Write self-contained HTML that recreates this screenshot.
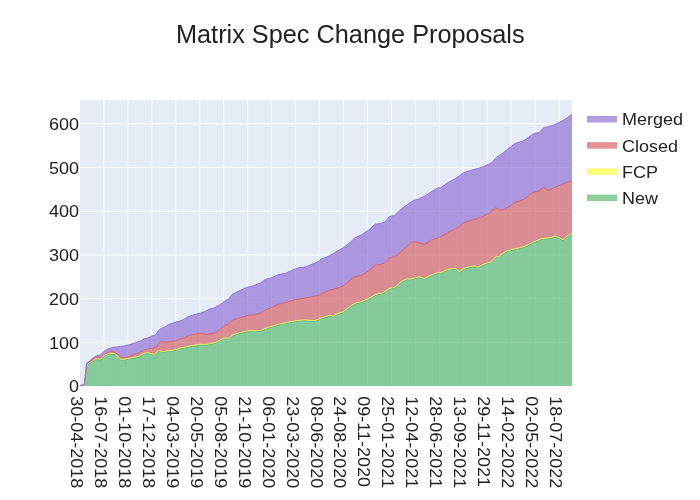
<!DOCTYPE html>
<html><head><meta charset="utf-8"><style>
html,body{margin:0;padding:0;background:#fff;}
svg{display:block;will-change:transform;}
.t{font-family:"Liberation Sans",sans-serif;font-size:17px;fill:#222;}
.title{font-family:"Liberation Sans",sans-serif;font-size:25px;fill:#222;}
</style></head><body>
<svg width="700" height="500" viewBox="0 0 700 500">
<rect x="0" y="0" width="700" height="500" fill="#fff"/>
<rect x="80" y="100" width="492" height="286" fill="#E5ECF6"/>
<path d="M103.95,100V386M127.90,100V386M151.85,100V386M175.80,100V386M199.75,100V386M223.70,100V386M247.65,100V386M271.60,100V386M295.55,100V386M319.50,100V386M343.45,100V386M367.40,100V386M391.35,100V386M415.30,100V386M439.25,100V386M463.20,100V386M487.15,100V386M511.10,100V386M535.05,100V386M559.00,100V386M80,342.30H572M80,298.61H572M80,254.91H572M80,211.21H572M80,167.51H572M80,123.82H572" stroke="#fff" stroke-width="1" fill="none"/>
<path d="M80.0,385.72 81.0,385.72 82.0,385.72 82.8,385.72 83.0,385.57 84.0,384.97 84.4,384.73 84.6,384.60 85.0,384.40 85.0,383.83 85.5,378.09 86.0,372.36 86.6,365.48 87.0,365.22 88.0,364.56 88.8,364.03 89.0,363.90 90.0,363.24 91.0,362.58 92.0,361.92 92.1,361.85 93.0,361.40 94.0,360.90 95.0,360.40 96.0,359.90 96.5,359.65 97.0,359.69 98.0,359.76 99.0,359.84 100.0,359.91 100.9,359.98 101.0,359.85 102.0,358.53 103.0,357.21 103.7,356.35 104.0,356.18 105.0,355.69 106.0,355.21 107.0,354.72 107.5,354.48 108.0,354.44 109.0,354.37 110.0,354.29 111.0,354.22 111.9,354.15 112.0,354.17 113.0,354.33 114.0,354.50 115.0,354.67 115.2,354.70 116.0,355.50 117.0,356.50 117.4,356.90 118.0,357.45 118.0,357.50 119.0,358.42 120.0,359.34 120.7,359.98 121.0,360.00 122.0,360.07 123.0,360.13 124.0,360.20 125.0,360.00 126.0,359.80 127.0,359.60 128.0,359.40 129.0,359.20 129.5,359.10 130.0,359.00 131.0,358.80 132.0,358.60 133.0,358.40 134.0,358.20 135.0,358.00 135.0,358.00 136.0,357.78 137.0,357.56 138.0,357.34 139.0,357.11 140.0,356.90 140.0,356.20 141.0,355.70 142.0,355.20 143.0,354.70 143.6,354.40 144.0,354.20 144.8,353.80 145.0,353.80 146.0,353.80 147.0,353.80 147.2,353.80 148.0,353.80 149.0,353.80 149.6,353.80 150.0,353.95 151.0,354.32 152.0,354.70 153.0,355.08 154.0,355.45 154.4,355.60 155.0,354.90 155.6,354.20 156.0,353.73 156.8,352.80 157.0,352.57 158.0,351.40 159.0,351.60 159.2,351.64 160.0,351.80 160.4,351.88 161.0,352.00 161.6,352.12 162.0,352.20 163.0,352.40 164.0,352.60 165.0,352.35 165.2,352.30 166.0,352.10 167.0,351.85 168.0,351.60 168.8,351.40 169.0,351.38 170.0,351.28 171.0,351.18 172.0,351.08 173.0,350.98 173.6,350.92 174.0,350.88 174.8,350.80 175.0,350.73 176.0,350.35 177.0,349.98 178.0,349.60 178.4,349.45 179.0,349.23 179.6,349.00 180.0,348.92 181.0,348.72 182.0,348.52 183.0,348.32 183.2,348.28 184.0,348.12 184.4,348.04 185.0,347.92 185.6,347.80 186.0,347.70 187.0,347.45 188.0,347.20 189.0,346.95 189.2,346.90 190.0,346.70 190.4,346.60 191.0,346.53 192.0,346.40 192.8,346.30 193.0,346.28 194.0,346.15 195.0,346.02 195.2,346.00 196.0,345.83 196.4,345.75 197.0,345.62 198.0,345.42 199.0,345.21 200.0,345.16 201.0,345.18 202.0,345.21 203.0,345.23 204.0,345.25 205.0,345.28 206.0,345.30 207.0,345.10 208.0,344.90 209.0,344.70 210.0,344.50 211.0,344.30 212.0,344.10 213.0,343.90 213.5,343.80 214.0,343.70 214.2,343.65 215.0,343.50 216.0,343.00 217.0,342.50 218.0,342.00 219.0,341.50 219.5,341.25 220.0,341.00 221.0,340.50 222.0,340.00 223.0,339.50 224.0,339.00 225.0,339.00 226.0,339.00 227.0,339.00 228.0,339.00 228.5,339.00 229.0,339.00 229.2,339.00 230.0,338.25 231.0,337.25 232.0,336.25 232.2,336.00 233.0,335.75 234.0,335.42 235.0,335.08 236.0,334.75 237.0,334.42 237.5,334.25 238.0,334.08 239.0,333.75 240.0,333.50 241.0,333.25 242.0,333.00 243.0,332.75 243.5,332.62 244.0,332.50 245.0,332.25 246.0,332.07 247.0,331.90 248.0,331.73 249.0,331.55 249.5,331.46 250.0,331.38 251.0,331.20 252.0,331.33 252.5,331.40 253.0,331.47 254.0,331.60 255.0,331.73 255.5,331.80 256.0,331.73 257.0,331.60 258.0,331.47 259.0,331.33 260.0,331.49 261.0,331.09 262.0,330.69 263.0,330.29 264.0,329.89 265.0,329.49 265.4,329.33 266.0,329.09 267.0,328.69 268.0,328.29 269.0,327.89 270.0,327.59 271.0,327.29 272.0,326.99 272.6,326.81 273.0,326.69 274.0,326.39 275.0,326.09 276.0,325.79 277.0,325.49 278.0,325.19 279.0,324.99 280.0,324.79 281.0,324.59 282.0,324.39 283.0,324.19 284.0,323.99 285.0,323.79 285.2,323.75 286.0,323.59 287.0,323.39 288.0,323.19 289.0,322.99 290.0,322.79 291.0,322.59 292.0,322.39 292.4,322.31 293.0,322.19 294.0,321.99 295.0,321.79 296.0,321.59 297.0,321.49 297.8,321.41 298.0,321.39 299.0,321.29 300.0,321.19 301.0,321.09 302.0,320.99 303.0,320.89 304.0,320.79 305.0,320.69 306.0,320.79 306.8,320.87 307.0,320.89 308.0,320.99 309.0,321.09 310.0,321.19 311.0,321.29 312.0,321.39 313.0,321.49 314.0,321.59 315.0,321.29 316.0,320.98 317.0,320.68 318.0,320.38 319.0,320.07 319.9,319.79 320.0,319.10 321.0,318.80 322.0,318.50 323.0,318.20 324.0,317.90 325.0,317.60 326.0,317.30 326.9,317.03 327.0,317.00 328.0,316.70 329.0,316.40 329.2,316.34 330.0,316.42 331.0,316.52 332.0,316.62 333.0,316.72 333.8,316.80 334.0,316.68 335.0,316.08 336.0,315.48 336.1,315.42 337.0,314.88 338.0,314.28 338.4,314.04 339.0,313.86 340.0,313.56 341.0,313.26 342.0,312.96 343.0,312.66 344.0,311.92 345.0,311.18 346.0,310.44 347.0,309.70 348.0,308.96 349.0,308.22 349.9,307.55 350.0,307.48 351.0,306.74 352.0,306.00 353.0,305.26 354.0,304.52 354.5,304.15 355.0,304.03 356.0,303.80 357.0,303.57 358.0,303.33 359.0,303.10 360.0,302.87 361.0,302.63 361.4,302.54 362.0,302.27 363.0,301.81 364.0,301.35 365.0,300.89 366.0,300.44 367.0,299.98 368.0,299.52 368.3,299.39 369.0,299.07 369.4,298.86 370.0,298.55 371.0,297.99 372.0,297.43 373.0,296.87 374.0,296.31 375.0,295.75 375.2,295.64 376.0,295.33 377.0,294.95 378.0,294.56 379.0,294.18 380.0,293.79 380.0,294.95 381.0,294.47 382.0,293.98 383.0,293.48 384.0,292.99 384.8,292.59 385.0,292.44 386.0,291.69 387.0,290.94 388.0,290.19 389.0,289.44 389.6,288.99 390.0,288.95 391.0,288.85 392.0,288.75 393.0,288.65 394.0,288.55 394.4,288.51 395.0,287.99 396.0,287.12 396.8,286.43 397.0,286.26 398.0,285.39 399.0,284.52 400.0,283.66 401.0,282.79 401.6,282.27 402.0,282.07 403.0,281.57 404.0,281.07 405.0,280.57 406.0,280.07 406.4,279.87 407.0,279.87 408.0,279.87 408.8,279.87 409.0,279.87 410.0,279.87 411.0,279.87 411.2,279.87 412.0,279.59 413.0,279.24 413.6,279.03 414.0,278.89 415.0,278.54 416.0,278.19 417.0,278.06 418.0,277.92 418.4,277.87 419.0,277.79 419.6,277.71 420.0,277.85 421.0,278.20 422.0,278.55 423.0,278.90 424.0,279.25 424.4,279.39 425.0,279.09 425.6,278.79 426.0,278.59 427.0,278.09 428.0,277.59 429.0,277.09 430.0,276.59 431.0,276.09 431.6,275.79 432.0,275.64 432.8,275.35 433.0,275.27 434.0,274.90 435.0,274.53 436.0,274.16 437.0,273.79 438.0,273.42 439.0,273.05 440.0,274.11 441.0,273.59 442.0,273.08 443.0,272.56 444.0,272.04 445.0,271.53 446.0,271.01 447.0,270.49 447.8,270.08 448.0,270.06 449.0,269.96 450.0,269.86 450.4,269.82 451.0,269.76 452.0,269.66 453.0,269.56 454.0,269.46 455.0,269.36 455.6,269.30 456.0,269.65 457.0,270.51 458.0,271.38 458.2,271.55 459.0,272.25 459.5,272.68 460.0,272.25 461.0,271.38 462.0,270.51 463.0,269.65 463.4,269.30 464.0,269.15 465.0,268.90 466.0,268.65 467.0,268.40 468.0,268.15 469.0,267.90 470.0,267.65 471.0,267.40 471.2,267.35 472.0,267.15 473.0,266.90 473.8,266.70 474.0,266.77 475.0,267.10 476.0,267.43 477.0,267.77 477.7,268.00 478.0,267.86 479.0,267.38 480.0,266.90 481.0,266.42 481.6,266.13 482.0,265.94 483.0,265.46 484.0,264.98 484.2,264.88 485.0,264.62 486.0,264.30 486.8,264.05 487.0,263.98 488.0,263.66 489.0,263.34 489.4,263.22 490.0,263.02 490.7,262.80 491.0,262.50 492.0,261.50 493.0,260.50 494.0,259.50 495.0,258.50 495.9,257.60 496.0,257.61 497.0,257.71 498.0,257.81 499.0,257.91 500.0,258.01 500.1,256.30 501.0,255.62 502.0,254.90 503.0,254.18 504.0,253.45 504.5,253.09 505.0,252.73 506.0,252.01 507.0,251.74 508.0,251.48 509.0,251.21 510.0,250.94 511.0,250.68 512.0,250.41 513.0,250.14 514.0,249.88 515.0,249.61 516.0,249.38 517.0,249.14 518.0,248.91 519.0,248.68 520.0,248.44 521.0,248.21 522.0,247.98 523.0,247.74 524.0,247.51 525.0,247.01 526.0,246.51 527.0,246.01 528.0,245.51 529.0,245.01 530.0,244.51 531.0,244.01 532.0,243.51 533.0,243.01 534.0,242.61 535.0,242.21 536.0,241.81 537.0,241.41 538.0,241.01 539.0,240.61 540.0,240.21 541.0,239.81 542.0,239.41 543.0,239.31 543.5,239.26 544.0,239.21 545.0,239.11 546.0,239.01 547.0,238.91 548.0,238.81 549.0,238.71 550.0,238.61 551.0,238.51 551.0,238.51 552.0,238.18 553.0,237.85 554.0,237.51 554.0,237.51 555.0,237.18 555.5,237.01 556.0,237.25 557.0,237.73 557.0,237.73 558.0,238.21 559.0,238.69 560.0,239.17 561.0,239.65 562.0,240.13 563.0,240.61 563.0,240.61 564.0,239.69 564.5,239.21 565.0,238.75 566.0,237.82 567.0,236.89 567.5,236.41 568.0,236.15 569.0,235.62 570.0,235.08 571.0,234.55 572.0,234.02 L572.0,386.00 571.0,386.00 570.0,386.00 569.0,386.00 568.0,386.00 567.5,386.00 567.0,386.00 566.0,386.00 565.0,386.00 564.5,386.00 564.0,386.00 563.0,386.00 563.0,386.00 562.0,386.00 561.0,386.00 560.0,386.00 559.0,386.00 558.0,386.00 557.0,386.00 557.0,386.00 556.0,386.00 555.5,386.00 555.0,386.00 554.0,386.00 554.0,386.00 553.0,386.00 552.0,386.00 551.0,386.00 551.0,386.00 550.0,386.00 549.0,386.00 548.0,386.00 547.0,386.00 546.0,386.00 545.0,386.00 544.0,386.00 543.5,386.00 543.0,386.00 542.0,386.00 541.0,386.00 540.0,386.00 539.0,386.00 538.0,386.00 537.0,386.00 536.0,386.00 535.0,386.00 534.0,386.00 533.0,386.00 532.0,386.00 531.0,386.00 530.0,386.00 529.0,386.00 528.0,386.00 527.0,386.00 526.0,386.00 525.0,386.00 524.0,386.00 523.0,386.00 522.0,386.00 521.0,386.00 520.0,386.00 519.0,386.00 518.0,386.00 517.0,386.00 516.0,386.00 515.0,386.00 514.0,386.00 513.0,386.00 512.0,386.00 511.0,386.00 510.0,386.00 509.0,386.00 508.0,386.00 507.0,386.00 506.0,386.00 505.0,386.00 504.5,386.00 504.0,386.00 503.0,386.00 502.0,386.00 501.0,386.00 500.1,386.00 500.0,386.00 499.0,386.00 498.0,386.00 497.0,386.00 496.0,386.00 495.9,386.00 495.0,386.00 494.0,386.00 493.0,386.00 492.0,386.00 491.0,386.00 490.7,386.00 490.0,386.00 489.4,386.00 489.0,386.00 488.0,386.00 487.0,386.00 486.8,386.00 486.0,386.00 485.0,386.00 484.2,386.00 484.0,386.00 483.0,386.00 482.0,386.00 481.6,386.00 481.0,386.00 480.0,386.00 479.0,386.00 478.0,386.00 477.7,386.00 477.0,386.00 476.0,386.00 475.0,386.00 474.0,386.00 473.8,386.00 473.0,386.00 472.0,386.00 471.2,386.00 471.0,386.00 470.0,386.00 469.0,386.00 468.0,386.00 467.0,386.00 466.0,386.00 465.0,386.00 464.0,386.00 463.4,386.00 463.0,386.00 462.0,386.00 461.0,386.00 460.0,386.00 459.5,386.00 459.0,386.00 458.2,386.00 458.0,386.00 457.0,386.00 456.0,386.00 455.6,386.00 455.0,386.00 454.0,386.00 453.0,386.00 452.0,386.00 451.0,386.00 450.4,386.00 450.0,386.00 449.0,386.00 448.0,386.00 447.8,386.00 447.0,386.00 446.0,386.00 445.0,386.00 444.0,386.00 443.0,386.00 442.0,386.00 441.0,386.00 440.0,386.00 439.0,386.00 438.0,386.00 437.0,386.00 436.0,386.00 435.0,386.00 434.0,386.00 433.0,386.00 432.8,386.00 432.0,386.00 431.6,386.00 431.0,386.00 430.0,386.00 429.0,386.00 428.0,386.00 427.0,386.00 426.0,386.00 425.6,386.00 425.0,386.00 424.4,386.00 424.0,386.00 423.0,386.00 422.0,386.00 421.0,386.00 420.0,386.00 419.6,386.00 419.0,386.00 418.4,386.00 418.0,386.00 417.0,386.00 416.0,386.00 415.0,386.00 414.0,386.00 413.6,386.00 413.0,386.00 412.0,386.00 411.2,386.00 411.0,386.00 410.0,386.00 409.0,386.00 408.8,386.00 408.0,386.00 407.0,386.00 406.4,386.00 406.0,386.00 405.0,386.00 404.0,386.00 403.0,386.00 402.0,386.00 401.6,386.00 401.0,386.00 400.0,386.00 399.0,386.00 398.0,386.00 397.0,386.00 396.8,386.00 396.0,386.00 395.0,386.00 394.4,386.00 394.0,386.00 393.0,386.00 392.0,386.00 391.0,386.00 390.0,386.00 389.6,386.00 389.0,386.00 388.0,386.00 387.0,386.00 386.0,386.00 385.0,386.00 384.8,386.00 384.0,386.00 383.0,386.00 382.0,386.00 381.0,386.00 380.0,386.00 380.0,386.00 379.0,386.00 378.0,386.00 377.0,386.00 376.0,386.00 375.2,386.00 375.0,386.00 374.0,386.00 373.0,386.00 372.0,386.00 371.0,386.00 370.0,386.00 369.4,386.00 369.0,386.00 368.3,386.00 368.0,386.00 367.0,386.00 366.0,386.00 365.0,386.00 364.0,386.00 363.0,386.00 362.0,386.00 361.4,386.00 361.0,386.00 360.0,386.00 359.0,386.00 358.0,386.00 357.0,386.00 356.0,386.00 355.0,386.00 354.5,386.00 354.0,386.00 353.0,386.00 352.0,386.00 351.0,386.00 350.0,386.00 349.9,386.00 349.0,386.00 348.0,386.00 347.0,386.00 346.0,386.00 345.0,386.00 344.0,386.00 343.0,386.00 342.0,386.00 341.0,386.00 340.0,386.00 339.0,386.00 338.4,386.00 338.0,386.00 337.0,386.00 336.1,386.00 336.0,386.00 335.0,386.00 334.0,386.00 333.8,386.00 333.0,386.00 332.0,386.00 331.0,386.00 330.0,386.00 329.2,386.00 329.0,386.00 328.0,386.00 327.0,386.00 326.9,386.00 326.0,386.00 325.0,386.00 324.0,386.00 323.0,386.00 322.0,386.00 321.0,386.00 320.0,386.00 319.9,386.00 319.0,386.00 318.0,386.00 317.0,386.00 316.0,386.00 315.0,386.00 314.0,386.00 313.0,386.00 312.0,386.00 311.0,386.00 310.0,386.00 309.0,386.00 308.0,386.00 307.0,386.00 306.8,386.00 306.0,386.00 305.0,386.00 304.0,386.00 303.0,386.00 302.0,386.00 301.0,386.00 300.0,386.00 299.0,386.00 298.0,386.00 297.8,386.00 297.0,386.00 296.0,386.00 295.0,386.00 294.0,386.00 293.0,386.00 292.4,386.00 292.0,386.00 291.0,386.00 290.0,386.00 289.0,386.00 288.0,386.00 287.0,386.00 286.0,386.00 285.2,386.00 285.0,386.00 284.0,386.00 283.0,386.00 282.0,386.00 281.0,386.00 280.0,386.00 279.0,386.00 278.0,386.00 277.0,386.00 276.0,386.00 275.0,386.00 274.0,386.00 273.0,386.00 272.6,386.00 272.0,386.00 271.0,386.00 270.0,386.00 269.0,386.00 268.0,386.00 267.0,386.00 266.0,386.00 265.4,386.00 265.0,386.00 264.0,386.00 263.0,386.00 262.0,386.00 261.0,386.00 260.0,386.00 259.0,386.00 258.0,386.00 257.0,386.00 256.0,386.00 255.5,386.00 255.0,386.00 254.0,386.00 253.0,386.00 252.5,386.00 252.0,386.00 251.0,386.00 250.0,386.00 249.5,386.00 249.0,386.00 248.0,386.00 247.0,386.00 246.0,386.00 245.0,386.00 244.0,386.00 243.5,386.00 243.0,386.00 242.0,386.00 241.0,386.00 240.0,386.00 239.0,386.00 238.0,386.00 237.5,386.00 237.0,386.00 236.0,386.00 235.0,386.00 234.0,386.00 233.0,386.00 232.2,386.00 232.0,386.00 231.0,386.00 230.0,386.00 229.2,386.00 229.0,386.00 228.5,386.00 228.0,386.00 227.0,386.00 226.0,386.00 225.0,386.00 224.0,386.00 223.0,386.00 222.0,386.00 221.0,386.00 220.0,386.00 219.5,386.00 219.0,386.00 218.0,386.00 217.0,386.00 216.0,386.00 215.0,386.00 214.2,386.00 214.0,386.00 213.5,386.00 213.0,386.00 212.0,386.00 211.0,386.00 210.0,386.00 209.0,386.00 208.0,386.00 207.0,386.00 206.0,386.00 205.0,386.00 204.0,386.00 203.0,386.00 202.0,386.00 201.0,386.00 200.0,386.00 199.0,386.00 198.0,386.00 197.0,386.00 196.4,386.00 196.0,386.00 195.2,386.00 195.0,386.00 194.0,386.00 193.0,386.00 192.8,386.00 192.0,386.00 191.0,386.00 190.4,386.00 190.0,386.00 189.2,386.00 189.0,386.00 188.0,386.00 187.0,386.00 186.0,386.00 185.6,386.00 185.0,386.00 184.4,386.00 184.0,386.00 183.2,386.00 183.0,386.00 182.0,386.00 181.0,386.00 180.0,386.00 179.6,386.00 179.0,386.00 178.4,386.00 178.0,386.00 177.0,386.00 176.0,386.00 175.0,386.00 174.8,386.00 174.0,386.00 173.6,386.00 173.0,386.00 172.0,386.00 171.0,386.00 170.0,386.00 169.0,386.00 168.8,386.00 168.0,386.00 167.0,386.00 166.0,386.00 165.2,386.00 165.0,386.00 164.0,386.00 163.0,386.00 162.0,386.00 161.6,386.00 161.0,386.00 160.4,386.00 160.0,386.00 159.2,386.00 159.0,386.00 158.0,386.00 157.0,386.00 156.8,386.00 156.0,386.00 155.6,386.00 155.0,386.00 154.4,386.00 154.0,386.00 153.0,386.00 152.0,386.00 151.0,386.00 150.0,386.00 149.6,386.00 149.0,386.00 148.0,386.00 147.2,386.00 147.0,386.00 146.0,386.00 145.0,386.00 144.8,386.00 144.0,386.00 143.6,386.00 143.0,386.00 142.0,386.00 141.0,386.00 140.0,386.00 140.0,386.00 139.0,386.00 138.0,386.00 137.0,386.00 136.0,386.00 135.0,386.00 135.0,386.00 134.0,386.00 133.0,386.00 132.0,386.00 131.0,386.00 130.0,386.00 129.5,386.00 129.0,386.00 128.0,386.00 127.0,386.00 126.0,386.00 125.0,386.00 124.0,386.00 123.0,386.00 122.0,386.00 121.0,386.00 120.7,386.00 120.0,386.00 119.0,386.00 118.0,386.00 118.0,386.00 117.4,386.00 117.0,386.00 116.0,386.00 115.2,386.00 115.0,386.00 114.0,386.00 113.0,386.00 112.0,386.00 111.9,386.00 111.0,386.00 110.0,386.00 109.0,386.00 108.0,386.00 107.5,386.00 107.0,386.00 106.0,386.00 105.0,386.00 104.0,386.00 103.7,386.00 103.0,386.00 102.0,386.00 101.0,386.00 100.9,386.00 100.0,386.00 99.0,386.00 98.0,386.00 97.0,386.00 96.5,386.00 96.0,386.00 95.0,386.00 94.0,386.00 93.0,386.00 92.1,386.00 92.0,386.00 91.0,386.00 90.0,386.00 89.0,386.00 88.8,386.00 88.0,386.00 87.0,386.00 86.6,386.00 86.0,386.00 85.5,386.00 85.0,386.00 85.0,386.00 84.6,386.00 84.4,386.00 84.0,386.00 83.0,386.00 82.8,386.00 82.0,386.00 81.0,386.00 80.0,386.00Z" fill="rgba(74,180,98,0.62)"/>
<path d="M80.0,385.50 81.0,385.42 82.0,385.34 82.8,385.28 83.0,385.10 84.0,384.39 84.4,384.11 84.6,383.95 85.0,383.40 85.0,382.83 85.5,377.09 86.0,371.36 86.6,364.48 87.0,364.22 88.0,363.56 88.8,363.03 89.0,362.90 90.0,362.24 91.0,361.58 92.0,360.92 92.1,360.85 93.0,360.40 94.0,359.90 95.0,359.40 96.0,358.90 96.5,358.65 97.0,358.69 98.0,358.76 99.0,358.84 100.0,358.91 100.9,358.98 101.0,358.85 102.0,357.53 103.0,356.21 103.7,355.35 104.0,355.18 105.0,354.69 106.0,354.21 107.0,353.72 107.5,353.48 108.0,353.44 109.0,353.37 110.0,353.29 111.0,353.22 111.9,353.15 112.0,353.17 113.0,353.33 114.0,353.50 115.0,353.67 115.2,353.70 116.0,354.50 117.0,355.50 117.4,355.90 118.0,356.45 118.0,356.50 119.0,357.42 120.0,358.34 120.7,358.98 121.0,359.00 122.0,359.07 123.0,359.13 124.0,359.20 125.0,359.00 126.0,358.80 127.0,358.60 128.0,358.40 129.0,358.20 129.5,358.10 130.0,358.00 131.0,357.80 132.0,357.60 133.0,357.40 134.0,357.20 135.0,357.00 135.0,357.00 136.0,356.78 137.0,356.56 138.0,356.34 139.0,356.11 140.0,355.90 140.0,355.20 141.0,354.70 142.0,354.20 143.0,353.70 143.6,353.40 144.0,353.20 144.8,352.80 145.0,352.80 146.0,352.80 147.0,352.80 147.2,352.80 148.0,352.80 149.0,352.80 149.6,352.80 150.0,352.95 151.0,353.32 152.0,353.70 153.0,354.08 154.0,354.45 154.4,354.60 155.0,353.90 155.6,353.20 156.0,352.73 156.8,351.80 157.0,351.57 158.0,350.40 159.0,350.60 159.2,350.64 160.0,350.80 160.4,350.88 161.0,351.00 161.6,351.12 162.0,351.20 163.0,351.40 164.0,351.60 165.0,351.35 165.2,351.30 166.0,351.10 167.0,350.85 168.0,350.60 168.8,350.40 169.0,350.38 170.0,350.28 171.0,350.18 172.0,350.08 173.0,349.98 173.6,349.92 174.0,349.88 174.8,349.80 175.0,349.73 176.0,349.35 177.0,348.98 178.0,348.60 178.4,348.45 179.0,348.23 179.6,348.00 180.0,347.92 181.0,347.72 182.0,347.52 183.0,347.32 183.2,347.28 184.0,347.12 184.4,347.04 185.0,346.92 185.6,346.80 186.0,346.70 187.0,346.45 188.0,346.20 189.0,345.95 189.2,345.90 190.0,345.70 190.4,345.60 191.0,345.53 192.0,345.40 192.8,345.30 193.0,345.28 194.0,345.15 195.0,345.02 195.2,345.00 196.0,344.83 196.4,344.75 197.0,344.62 198.0,344.42 199.0,344.21 200.0,344.16 201.0,344.18 202.0,344.21 203.0,344.23 204.0,344.25 205.0,344.28 206.0,344.30 207.0,344.10 208.0,343.90 209.0,343.70 210.0,343.50 211.0,343.30 212.0,343.10 213.0,342.90 213.5,342.80 214.0,342.70 214.2,342.65 215.0,342.50 216.0,342.00 217.0,341.50 218.0,341.00 219.0,340.50 219.5,340.25 220.0,340.00 221.0,339.50 222.0,339.00 223.0,338.50 224.0,338.00 225.0,338.00 226.0,338.00 227.0,338.00 228.0,338.00 228.5,338.00 229.0,338.00 229.2,338.00 230.0,337.25 231.0,336.25 232.0,335.25 232.2,335.00 233.0,334.75 234.0,334.42 235.0,334.08 236.0,333.75 237.0,333.42 237.5,333.25 238.0,333.08 239.0,332.75 240.0,332.50 241.0,332.25 242.0,332.00 243.0,331.75 243.5,331.62 244.0,331.50 245.0,331.25 246.0,331.07 247.0,330.90 248.0,330.73 249.0,330.55 249.5,330.46 250.0,330.38 251.0,330.20 252.0,330.33 252.5,330.40 253.0,330.47 254.0,330.60 255.0,330.73 255.5,330.80 256.0,330.73 257.0,330.60 258.0,330.47 259.0,330.33 260.0,330.49 261.0,330.09 262.0,329.69 263.0,329.29 264.0,328.89 265.0,328.49 265.4,328.33 266.0,328.09 267.0,327.69 268.0,327.29 269.0,326.89 270.0,326.59 271.0,326.29 272.0,325.99 272.6,325.81 273.0,325.69 274.0,325.39 275.0,325.09 276.0,324.79 277.0,324.49 278.0,324.19 279.0,323.99 280.0,323.79 281.0,323.59 282.0,323.39 283.0,323.19 284.0,322.99 285.0,322.79 285.2,322.75 286.0,322.59 287.0,322.39 288.0,322.19 289.0,321.99 290.0,321.79 291.0,321.59 292.0,321.39 292.4,321.31 293.0,321.19 294.0,320.99 295.0,320.79 296.0,320.59 297.0,320.49 297.8,320.41 298.0,320.39 299.0,320.29 300.0,320.19 301.0,320.09 302.0,319.99 303.0,319.89 304.0,319.79 305.0,319.69 306.0,319.79 306.8,319.87 307.0,319.89 308.0,319.99 309.0,320.09 310.0,320.19 311.0,320.29 312.0,320.39 313.0,320.49 314.0,320.59 315.0,320.29 316.0,319.98 317.0,319.68 318.0,319.38 319.0,319.07 319.9,318.79 320.0,318.10 321.0,317.80 322.0,317.50 323.0,317.20 324.0,316.90 325.0,316.60 326.0,316.30 326.9,316.03 327.0,316.00 328.0,315.70 329.0,315.40 329.2,315.34 330.0,315.42 331.0,315.52 332.0,315.62 333.0,315.72 333.8,315.80 334.0,315.68 335.0,315.08 336.0,314.48 336.1,314.42 337.0,313.88 338.0,313.28 338.4,313.04 339.0,312.86 340.0,312.56 341.0,312.26 342.0,311.96 343.0,311.66 344.0,310.92 345.0,310.18 346.0,309.44 347.0,308.70 348.0,307.96 349.0,307.22 349.9,306.55 350.0,306.48 351.0,305.74 352.0,305.00 353.0,304.26 354.0,303.52 354.5,303.15 355.0,303.03 356.0,302.80 357.0,302.57 358.0,302.33 359.0,302.10 360.0,301.87 361.0,301.63 361.4,301.54 362.0,301.27 363.0,300.81 364.0,300.35 365.0,299.89 366.0,299.44 367.0,298.98 368.0,298.52 368.3,298.39 369.0,298.07 369.4,297.86 370.0,297.55 371.0,296.99 372.0,296.43 373.0,295.87 374.0,295.31 375.0,294.75 375.2,294.64 376.0,294.33 377.0,293.95 378.0,293.56 379.0,293.18 380.0,292.79 380.0,293.95 381.0,293.47 382.0,292.98 383.0,292.48 384.0,291.99 384.8,291.59 385.0,291.44 386.0,290.69 387.0,289.94 388.0,289.19 389.0,288.44 389.6,287.99 390.0,287.95 391.0,287.85 392.0,287.75 393.0,287.65 394.0,287.55 394.4,287.51 395.0,286.99 396.0,286.12 396.8,285.43 397.0,285.26 398.0,284.39 399.0,283.52 400.0,282.66 401.0,281.79 401.6,281.27 402.0,281.07 403.0,280.57 404.0,280.07 405.0,279.57 406.0,279.07 406.4,278.87 407.0,278.87 408.0,278.87 408.8,278.87 409.0,278.87 410.0,278.87 411.0,278.87 411.2,278.87 412.0,278.59 413.0,278.24 413.6,278.03 414.0,277.89 415.0,277.54 416.0,277.19 417.0,277.06 418.0,276.92 418.4,276.87 419.0,276.79 419.6,276.71 420.0,276.85 421.0,277.20 422.0,277.55 423.0,277.90 424.0,278.25 424.4,278.39 425.0,278.09 425.6,277.79 426.0,277.59 427.0,277.09 428.0,276.59 429.0,276.09 430.0,275.59 431.0,275.09 431.6,274.79 432.0,274.64 432.8,274.35 433.0,274.27 434.0,273.90 435.0,273.53 436.0,273.16 437.0,272.79 438.0,272.42 439.0,272.05 440.0,273.11 441.0,272.59 442.0,272.08 443.0,271.56 444.0,271.04 445.0,270.53 446.0,270.01 447.0,269.49 447.8,269.08 448.0,269.06 449.0,268.96 450.0,268.86 450.4,268.82 451.0,268.76 452.0,268.66 453.0,268.56 454.0,268.46 455.0,268.36 455.6,268.30 456.0,268.65 457.0,269.51 458.0,270.38 458.2,270.55 459.0,271.25 459.5,271.68 460.0,271.25 461.0,270.38 462.0,269.51 463.0,268.65 463.4,268.30 464.0,268.15 465.0,267.90 466.0,267.65 467.0,267.40 468.0,267.15 469.0,266.90 470.0,266.65 471.0,266.40 471.2,266.35 472.0,266.15 473.0,265.90 473.8,265.70 474.0,265.77 475.0,266.10 476.0,266.43 477.0,266.77 477.7,267.00 478.0,266.86 479.0,266.38 480.0,265.90 481.0,265.42 481.6,265.13 482.0,264.94 483.0,264.46 484.0,263.98 484.2,263.88 485.0,263.62 486.0,263.30 486.8,263.05 487.0,262.98 488.0,262.66 489.0,262.34 489.4,262.22 490.0,262.02 490.7,261.80 491.0,261.50 492.0,260.50 493.0,259.50 494.0,258.50 495.0,257.50 495.9,256.60 496.0,256.61 497.0,256.71 498.0,256.81 499.0,256.91 500.0,257.01 500.1,255.30 501.0,254.62 502.0,253.90 503.0,253.18 504.0,252.45 504.5,252.09 505.0,251.73 506.0,251.01 507.0,250.74 508.0,250.48 509.0,250.21 510.0,249.94 511.0,249.68 512.0,249.41 513.0,249.14 514.0,248.88 515.0,248.61 516.0,248.38 517.0,248.14 518.0,247.91 519.0,247.68 520.0,247.44 521.0,247.21 522.0,246.98 523.0,246.74 524.0,246.51 525.0,246.01 526.0,245.51 527.0,245.01 528.0,244.51 529.0,244.01 530.0,243.51 531.0,243.01 532.0,242.51 533.0,242.01 534.0,241.61 535.0,241.21 536.0,240.81 537.0,240.41 538.0,240.01 539.0,239.61 540.0,239.21 541.0,238.81 542.0,238.41 543.0,238.31 543.5,238.26 544.0,238.21 545.0,238.11 546.0,238.01 547.0,237.91 548.0,237.81 549.0,237.71 550.0,237.61 551.0,237.51 551.0,237.51 552.0,237.18 553.0,236.85 554.0,236.51 554.0,236.51 555.0,236.18 555.5,236.01 556.0,236.25 557.0,236.73 557.0,236.73 558.0,237.21 559.0,237.69 560.0,238.17 561.0,238.65 562.0,239.13 563.0,239.61 563.0,239.61 564.0,238.69 564.5,238.21 565.0,237.75 566.0,236.82 567.0,235.89 567.5,235.41 568.0,235.15 569.0,234.62 570.0,234.08 571.0,233.55 572.0,233.02 L572.0,234.02 571.0,234.55 570.0,235.08 569.0,235.62 568.0,236.15 567.5,236.41 567.0,236.89 566.0,237.82 565.0,238.75 564.5,239.21 564.0,239.69 563.0,240.61 563.0,240.61 562.0,240.13 561.0,239.65 560.0,239.17 559.0,238.69 558.0,238.21 557.0,237.73 557.0,237.73 556.0,237.25 555.5,237.01 555.0,237.18 554.0,237.51 554.0,237.51 553.0,237.85 552.0,238.18 551.0,238.51 551.0,238.51 550.0,238.61 549.0,238.71 548.0,238.81 547.0,238.91 546.0,239.01 545.0,239.11 544.0,239.21 543.5,239.26 543.0,239.31 542.0,239.41 541.0,239.81 540.0,240.21 539.0,240.61 538.0,241.01 537.0,241.41 536.0,241.81 535.0,242.21 534.0,242.61 533.0,243.01 532.0,243.51 531.0,244.01 530.0,244.51 529.0,245.01 528.0,245.51 527.0,246.01 526.0,246.51 525.0,247.01 524.0,247.51 523.0,247.74 522.0,247.98 521.0,248.21 520.0,248.44 519.0,248.68 518.0,248.91 517.0,249.14 516.0,249.38 515.0,249.61 514.0,249.88 513.0,250.14 512.0,250.41 511.0,250.68 510.0,250.94 509.0,251.21 508.0,251.48 507.0,251.74 506.0,252.01 505.0,252.73 504.5,253.09 504.0,253.45 503.0,254.18 502.0,254.90 501.0,255.62 500.1,256.30 500.0,258.01 499.0,257.91 498.0,257.81 497.0,257.71 496.0,257.61 495.9,257.60 495.0,258.50 494.0,259.50 493.0,260.50 492.0,261.50 491.0,262.50 490.7,262.80 490.0,263.02 489.4,263.22 489.0,263.34 488.0,263.66 487.0,263.98 486.8,264.05 486.0,264.30 485.0,264.62 484.2,264.88 484.0,264.98 483.0,265.46 482.0,265.94 481.6,266.13 481.0,266.42 480.0,266.90 479.0,267.38 478.0,267.86 477.7,268.00 477.0,267.77 476.0,267.43 475.0,267.10 474.0,266.77 473.8,266.70 473.0,266.90 472.0,267.15 471.2,267.35 471.0,267.40 470.0,267.65 469.0,267.90 468.0,268.15 467.0,268.40 466.0,268.65 465.0,268.90 464.0,269.15 463.4,269.30 463.0,269.65 462.0,270.51 461.0,271.38 460.0,272.25 459.5,272.68 459.0,272.25 458.2,271.55 458.0,271.38 457.0,270.51 456.0,269.65 455.6,269.30 455.0,269.36 454.0,269.46 453.0,269.56 452.0,269.66 451.0,269.76 450.4,269.82 450.0,269.86 449.0,269.96 448.0,270.06 447.8,270.08 447.0,270.49 446.0,271.01 445.0,271.53 444.0,272.04 443.0,272.56 442.0,273.08 441.0,273.59 440.0,274.11 439.0,273.05 438.0,273.42 437.0,273.79 436.0,274.16 435.0,274.53 434.0,274.90 433.0,275.27 432.8,275.35 432.0,275.64 431.6,275.79 431.0,276.09 430.0,276.59 429.0,277.09 428.0,277.59 427.0,278.09 426.0,278.59 425.6,278.79 425.0,279.09 424.4,279.39 424.0,279.25 423.0,278.90 422.0,278.55 421.0,278.20 420.0,277.85 419.6,277.71 419.0,277.79 418.4,277.87 418.0,277.92 417.0,278.06 416.0,278.19 415.0,278.54 414.0,278.89 413.6,279.03 413.0,279.24 412.0,279.59 411.2,279.87 411.0,279.87 410.0,279.87 409.0,279.87 408.8,279.87 408.0,279.87 407.0,279.87 406.4,279.87 406.0,280.07 405.0,280.57 404.0,281.07 403.0,281.57 402.0,282.07 401.6,282.27 401.0,282.79 400.0,283.66 399.0,284.52 398.0,285.39 397.0,286.26 396.8,286.43 396.0,287.12 395.0,287.99 394.4,288.51 394.0,288.55 393.0,288.65 392.0,288.75 391.0,288.85 390.0,288.95 389.6,288.99 389.0,289.44 388.0,290.19 387.0,290.94 386.0,291.69 385.0,292.44 384.8,292.59 384.0,292.99 383.0,293.48 382.0,293.98 381.0,294.47 380.0,294.95 380.0,293.79 379.0,294.18 378.0,294.56 377.0,294.95 376.0,295.33 375.2,295.64 375.0,295.75 374.0,296.31 373.0,296.87 372.0,297.43 371.0,297.99 370.0,298.55 369.4,298.86 369.0,299.07 368.3,299.39 368.0,299.52 367.0,299.98 366.0,300.44 365.0,300.89 364.0,301.35 363.0,301.81 362.0,302.27 361.4,302.54 361.0,302.63 360.0,302.87 359.0,303.10 358.0,303.33 357.0,303.57 356.0,303.80 355.0,304.03 354.5,304.15 354.0,304.52 353.0,305.26 352.0,306.00 351.0,306.74 350.0,307.48 349.9,307.55 349.0,308.22 348.0,308.96 347.0,309.70 346.0,310.44 345.0,311.18 344.0,311.92 343.0,312.66 342.0,312.96 341.0,313.26 340.0,313.56 339.0,313.86 338.4,314.04 338.0,314.28 337.0,314.88 336.1,315.42 336.0,315.48 335.0,316.08 334.0,316.68 333.8,316.80 333.0,316.72 332.0,316.62 331.0,316.52 330.0,316.42 329.2,316.34 329.0,316.40 328.0,316.70 327.0,317.00 326.9,317.03 326.0,317.30 325.0,317.60 324.0,317.90 323.0,318.20 322.0,318.50 321.0,318.80 320.0,319.10 319.9,319.79 319.0,320.07 318.0,320.38 317.0,320.68 316.0,320.98 315.0,321.29 314.0,321.59 313.0,321.49 312.0,321.39 311.0,321.29 310.0,321.19 309.0,321.09 308.0,320.99 307.0,320.89 306.8,320.87 306.0,320.79 305.0,320.69 304.0,320.79 303.0,320.89 302.0,320.99 301.0,321.09 300.0,321.19 299.0,321.29 298.0,321.39 297.8,321.41 297.0,321.49 296.0,321.59 295.0,321.79 294.0,321.99 293.0,322.19 292.4,322.31 292.0,322.39 291.0,322.59 290.0,322.79 289.0,322.99 288.0,323.19 287.0,323.39 286.0,323.59 285.2,323.75 285.0,323.79 284.0,323.99 283.0,324.19 282.0,324.39 281.0,324.59 280.0,324.79 279.0,324.99 278.0,325.19 277.0,325.49 276.0,325.79 275.0,326.09 274.0,326.39 273.0,326.69 272.6,326.81 272.0,326.99 271.0,327.29 270.0,327.59 269.0,327.89 268.0,328.29 267.0,328.69 266.0,329.09 265.4,329.33 265.0,329.49 264.0,329.89 263.0,330.29 262.0,330.69 261.0,331.09 260.0,331.49 259.0,331.33 258.0,331.47 257.0,331.60 256.0,331.73 255.5,331.80 255.0,331.73 254.0,331.60 253.0,331.47 252.5,331.40 252.0,331.33 251.0,331.20 250.0,331.38 249.5,331.46 249.0,331.55 248.0,331.73 247.0,331.90 246.0,332.07 245.0,332.25 244.0,332.50 243.5,332.62 243.0,332.75 242.0,333.00 241.0,333.25 240.0,333.50 239.0,333.75 238.0,334.08 237.5,334.25 237.0,334.42 236.0,334.75 235.0,335.08 234.0,335.42 233.0,335.75 232.2,336.00 232.0,336.25 231.0,337.25 230.0,338.25 229.2,339.00 229.0,339.00 228.5,339.00 228.0,339.00 227.0,339.00 226.0,339.00 225.0,339.00 224.0,339.00 223.0,339.50 222.0,340.00 221.0,340.50 220.0,341.00 219.5,341.25 219.0,341.50 218.0,342.00 217.0,342.50 216.0,343.00 215.0,343.50 214.2,343.65 214.0,343.70 213.5,343.80 213.0,343.90 212.0,344.10 211.0,344.30 210.0,344.50 209.0,344.70 208.0,344.90 207.0,345.10 206.0,345.30 205.0,345.28 204.0,345.25 203.0,345.23 202.0,345.21 201.0,345.18 200.0,345.16 199.0,345.21 198.0,345.42 197.0,345.62 196.4,345.75 196.0,345.83 195.2,346.00 195.0,346.02 194.0,346.15 193.0,346.28 192.8,346.30 192.0,346.40 191.0,346.53 190.4,346.60 190.0,346.70 189.2,346.90 189.0,346.95 188.0,347.20 187.0,347.45 186.0,347.70 185.6,347.80 185.0,347.92 184.4,348.04 184.0,348.12 183.2,348.28 183.0,348.32 182.0,348.52 181.0,348.72 180.0,348.92 179.6,349.00 179.0,349.23 178.4,349.45 178.0,349.60 177.0,349.98 176.0,350.35 175.0,350.73 174.8,350.80 174.0,350.88 173.6,350.92 173.0,350.98 172.0,351.08 171.0,351.18 170.0,351.28 169.0,351.38 168.8,351.40 168.0,351.60 167.0,351.85 166.0,352.10 165.2,352.30 165.0,352.35 164.0,352.60 163.0,352.40 162.0,352.20 161.6,352.12 161.0,352.00 160.4,351.88 160.0,351.80 159.2,351.64 159.0,351.60 158.0,351.40 157.0,352.57 156.8,352.80 156.0,353.73 155.6,354.20 155.0,354.90 154.4,355.60 154.0,355.45 153.0,355.08 152.0,354.70 151.0,354.32 150.0,353.95 149.6,353.80 149.0,353.80 148.0,353.80 147.2,353.80 147.0,353.80 146.0,353.80 145.0,353.80 144.8,353.80 144.0,354.20 143.6,354.40 143.0,354.70 142.0,355.20 141.0,355.70 140.0,356.20 140.0,356.90 139.0,357.11 138.0,357.34 137.0,357.56 136.0,357.78 135.0,358.00 135.0,358.00 134.0,358.20 133.0,358.40 132.0,358.60 131.0,358.80 130.0,359.00 129.5,359.10 129.0,359.20 128.0,359.40 127.0,359.60 126.0,359.80 125.0,360.00 124.0,360.20 123.0,360.13 122.0,360.07 121.0,360.00 120.7,359.98 120.0,359.34 119.0,358.42 118.0,357.50 118.0,357.45 117.4,356.90 117.0,356.50 116.0,355.50 115.2,354.70 115.0,354.67 114.0,354.50 113.0,354.33 112.0,354.17 111.9,354.15 111.0,354.22 110.0,354.29 109.0,354.37 108.0,354.44 107.5,354.48 107.0,354.72 106.0,355.21 105.0,355.69 104.0,356.18 103.7,356.35 103.0,357.21 102.0,358.53 101.0,359.85 100.9,359.98 100.0,359.91 99.0,359.84 98.0,359.76 97.0,359.69 96.5,359.65 96.0,359.90 95.0,360.40 94.0,360.90 93.0,361.40 92.1,361.85 92.0,361.92 91.0,362.58 90.0,363.24 89.0,363.90 88.8,364.03 88.0,364.56 87.0,365.22 86.6,365.48 86.0,372.36 85.5,378.09 85.0,383.83 85.0,384.40 84.6,384.60 84.4,384.73 84.0,384.97 83.0,385.57 82.8,385.72 82.0,385.72 81.0,385.72 80.0,385.72Z" fill="rgba(255,255,40,0.62)"/>
<path d="M80.0,385.50 81.0,385.42 82.0,385.34 82.8,385.28 83.0,385.10 84.0,384.39 84.4,384.11 84.6,383.95 85.0,380.59 85.0,380.09 85.5,375.00 86.0,369.92 86.6,363.82 87.0,363.55 88.0,362.87 88.8,362.32 89.0,362.19 90.0,361.51 91.0,360.83 92.0,360.15 92.1,360.08 93.0,359.45 94.0,358.75 95.0,358.05 96.0,357.35 96.5,357.00 97.0,357.06 98.0,357.19 99.0,357.31 100.0,357.44 100.9,357.55 101.0,357.43 102.0,356.23 103.0,355.03 103.7,354.25 104.0,354.10 105.0,353.67 106.0,353.24 107.0,352.81 107.5,352.60 108.0,352.45 109.0,352.15 110.0,351.85 111.0,351.55 111.9,351.28 112.0,351.31 113.0,351.65 114.0,351.98 115.0,352.31 115.2,352.38 116.0,353.08 117.0,353.96 117.4,354.32 118.0,354.80 118.0,354.84 119.0,355.64 120.0,356.44 120.7,357.00 121.0,357.05 122.0,357.22 123.0,357.38 124.0,357.55 125.0,357.35 126.0,357.15 127.0,356.95 128.0,356.75 129.0,356.55 129.5,356.45 130.0,356.25 131.0,355.85 132.0,355.45 133.0,355.05 134.0,354.65 135.0,354.25 135.0,354.25 136.0,353.88 137.0,353.50 138.0,353.12 139.0,352.74 140.0,352.38 140.0,352.20 141.0,351.70 142.0,351.20 143.0,350.70 143.6,350.40 144.0,350.20 144.8,349.80 145.0,349.75 146.0,349.50 147.0,349.25 147.2,349.20 148.0,349.00 149.0,348.75 149.6,348.60 150.0,348.55 151.0,348.43 152.0,348.30 153.0,348.18 154.0,348.05 154.4,348.00 155.0,347.70 155.6,347.40 156.0,347.20 156.8,346.80 157.0,346.42 158.0,344.52 159.0,342.62 159.2,342.24 160.0,341.96 160.4,341.82 161.0,341.61 161.6,341.40 162.0,341.49 163.0,341.73 164.0,341.96 165.0,342.19 165.2,342.24 166.0,342.16 167.0,342.06 168.0,341.96 168.8,341.88 169.0,341.86 170.0,341.76 171.0,341.56 172.0,341.36 173.0,341.16 173.6,341.04 174.0,340.96 174.8,340.80 175.0,340.73 176.0,340.35 177.0,339.98 178.0,339.60 178.4,339.45 179.0,339.23 179.6,339.00 180.0,338.90 181.0,338.65 182.0,338.40 183.0,338.15 183.2,338.10 184.0,337.90 184.4,337.80 185.0,337.50 185.6,337.20 186.0,337.00 187.0,336.50 188.0,336.00 189.0,335.50 189.2,335.40 190.0,335.20 190.4,335.10 191.0,334.95 192.0,334.70 192.8,334.50 193.0,334.45 194.0,334.20 195.0,334.00 195.2,333.96 196.0,333.80 196.4,333.72 197.0,333.60 198.0,333.40 199.0,333.20 200.0,333.20 201.0,333.38 202.0,333.55 203.0,333.73 204.0,333.90 205.0,334.07 206.0,334.25 207.0,334.15 208.0,334.05 209.0,333.95 210.0,333.85 211.0,333.75 212.0,333.65 213.0,333.55 213.5,333.50 214.0,333.19 214.2,333.03 215.0,332.56 216.0,331.94 217.0,331.31 218.0,330.69 219.0,330.06 219.5,329.75 220.0,329.33 221.0,328.50 222.0,327.67 223.0,326.83 224.0,326.00 225.0,325.55 226.0,325.10 227.0,324.65 228.0,324.20 228.5,323.98 229.0,323.75 229.2,323.64 230.0,323.30 231.0,321.83 232.0,320.37 232.2,320.00 233.0,319.80 234.0,319.53 235.0,319.27 236.0,319.00 237.0,318.73 237.5,318.60 238.0,318.47 239.0,318.20 240.0,317.88 241.0,317.55 242.0,317.23 243.0,316.90 243.5,316.74 244.0,316.57 245.0,316.25 246.0,316.02 247.0,315.78 248.0,315.55 249.0,315.32 249.5,315.20 250.0,315.20 251.0,315.20 252.0,315.20 252.5,315.20 253.0,315.20 254.0,315.20 255.0,314.84 255.5,314.66 256.0,314.48 257.0,314.12 258.0,313.75 259.0,313.39 260.0,313.25 261.0,312.61 262.0,311.97 263.0,311.33 264.0,310.69 265.0,310.05 265.4,309.79 266.0,309.57 267.0,309.19 268.0,308.82 269.0,308.45 270.0,308.07 271.0,307.70 272.0,307.32 272.6,307.10 273.0,306.90 274.0,306.40 275.0,305.90 276.0,305.40 277.0,304.90 278.0,304.40 279.0,304.16 280.0,303.92 281.0,303.68 282.0,303.44 283.0,303.20 284.0,302.96 285.0,302.72 285.2,302.67 286.0,302.48 287.0,302.24 288.0,301.92 289.0,301.60 290.0,301.28 291.0,300.96 292.0,300.64 292.4,300.51 293.0,300.32 294.0,300.00 295.0,299.68 296.0,299.36 297.0,299.22 297.8,299.11 298.0,299.08 299.0,298.94 300.0,298.80 301.0,298.66 302.0,298.52 303.0,298.38 304.0,298.24 305.0,298.10 306.0,297.90 306.8,297.74 307.0,297.70 308.0,297.50 309.0,297.30 310.0,297.10 311.0,296.90 312.0,296.70 313.0,296.50 314.0,296.30 315.0,296.09 316.0,295.88 317.0,295.66 318.0,295.45 319.0,295.24 319.9,295.04 320.0,293.95 321.0,293.57 322.0,293.20 323.0,292.82 324.0,292.45 325.0,292.07 326.0,291.70 326.9,291.36 327.0,291.32 328.0,290.95 329.0,290.57 329.2,290.50 330.0,290.26 331.0,289.96 332.0,289.66 333.0,289.36 333.8,289.12 334.0,289.06 335.0,288.76 336.0,288.46 336.1,288.43 337.0,288.16 338.0,287.86 338.4,287.74 339.0,287.50 340.0,287.10 341.0,286.70 342.0,286.30 343.0,285.90 344.0,285.10 345.0,284.30 346.0,283.50 347.0,282.70 348.0,281.90 349.0,281.10 349.9,280.38 350.0,280.30 351.0,279.50 352.0,278.70 353.0,277.90 354.0,277.10 354.5,276.70 355.0,276.62 356.0,276.45 357.0,276.28 358.0,276.12 359.0,275.95 360.0,275.78 361.0,275.62 361.4,275.55 362.0,275.16 363.0,274.50 364.0,273.84 365.0,273.18 366.0,272.53 367.0,271.87 368.0,271.21 368.3,271.02 369.0,270.56 369.4,270.26 370.0,269.78 371.0,268.90 372.0,268.02 373.0,267.14 374.0,266.26 375.0,265.38 375.2,265.20 376.0,265.08 377.0,264.93 378.0,264.77 379.0,264.62 380.0,264.47 380.0,264.74 381.0,264.34 382.0,263.93 383.0,263.53 384.0,263.12 384.8,262.79 385.0,262.59 386.0,261.59 387.0,260.59 388.0,259.59 389.0,258.59 389.6,257.99 390.0,257.86 391.0,257.52 392.0,257.19 393.0,256.86 394.0,256.52 394.4,256.39 395.0,256.19 396.0,255.86 396.8,255.59 397.0,255.41 398.0,254.51 399.0,253.61 400.0,252.71 401.0,251.81 401.6,251.27 402.0,250.91 403.0,250.01 404.0,249.11 405.0,248.18 406.0,247.25 406.4,246.87 407.0,246.31 408.0,245.38 408.8,244.64 409.0,244.45 410.0,243.52 411.0,242.59 411.2,242.40 412.0,242.32 413.0,242.22 413.6,242.16 414.0,242.12 415.0,242.02 416.0,241.92 417.0,242.18 418.0,242.45 418.4,242.55 419.0,242.71 419.6,242.87 420.0,242.99 421.0,243.29 422.0,243.59 423.0,243.89 424.0,244.19 424.4,244.31 425.0,243.95 425.6,243.59 426.0,243.35 427.0,242.75 428.0,242.16 429.0,241.56 430.0,240.96 431.0,240.36 431.6,240.00 432.0,239.86 432.8,239.59 433.0,239.52 434.0,239.17 435.0,238.83 436.0,238.48 437.0,238.14 438.0,237.79 439.0,237.45 440.0,237.12 441.0,236.54 442.0,235.97 443.0,235.39 444.0,234.81 445.0,234.24 446.0,233.66 447.0,233.08 447.8,232.62 448.0,232.50 449.0,231.93 450.0,231.35 450.4,231.12 451.0,230.84 452.0,230.37 453.0,229.91 454.0,229.44 455.0,228.97 455.6,228.69 456.0,228.51 457.0,228.04 458.0,227.57 458.2,227.48 459.0,226.76 459.5,226.31 460.0,225.86 461.0,224.96 462.0,224.06 463.0,223.16 463.4,222.80 464.0,222.62 465.0,222.32 466.0,222.02 467.0,221.72 468.0,221.42 469.0,221.12 470.0,220.82 471.0,220.52 471.2,220.46 472.0,220.22 473.0,219.92 473.8,219.68 474.0,219.61 475.0,219.28 476.0,218.95 477.0,218.61 477.7,218.38 478.0,218.28 479.0,217.95 480.0,217.61 481.0,217.28 481.6,217.08 482.0,216.87 483.0,216.33 484.0,215.80 484.2,215.69 485.0,215.27 486.0,214.73 486.8,214.31 487.0,214.20 488.0,213.67 489.0,213.13 489.4,212.92 490.0,212.44 490.7,211.88 491.0,211.64 492.0,210.84 493.0,210.04 494.0,209.24 495.0,208.44 495.9,207.72 496.0,207.79 497.0,208.47 498.0,209.15 499.0,209.83 500.0,210.51 500.1,210.32 501.0,210.17 502.0,210.01 503.0,209.85 504.0,209.69 504.5,209.61 505.0,209.27 506.0,208.58 507.0,207.90 508.0,207.21 509.0,206.52 510.0,205.84 511.0,205.15 512.0,204.47 513.0,203.78 514.0,203.10 515.0,202.41 516.0,202.08 517.0,201.74 518.0,201.41 519.0,201.08 520.0,200.74 521.0,200.41 522.0,200.08 523.0,199.74 524.0,199.41 525.0,198.64 526.0,197.88 527.0,197.11 528.0,196.34 529.0,195.58 530.0,194.81 531.0,194.04 532.0,193.28 533.0,192.51 534.0,192.26 535.0,192.01 536.0,191.76 537.0,191.51 538.0,191.26 539.0,191.01 540.0,190.21 541.0,189.41 542.0,188.61 543.0,187.81 543.5,187.41 544.0,187.74 545.0,188.41 546.0,189.08 547.0,189.74 548.0,190.41 549.0,189.98 550.0,189.54 551.0,189.11 551.0,189.11 552.0,188.68 553.0,188.25 554.0,187.81 554.0,187.81 555.0,187.38 555.5,187.16 556.0,186.95 557.0,186.51 557.0,186.51 558.0,186.11 559.0,185.71 560.0,185.31 561.0,184.91 562.0,184.51 563.0,184.11 563.0,184.11 564.0,183.71 564.5,183.51 565.0,183.31 566.0,182.91 567.0,182.51 567.5,182.31 568.0,182.11 569.0,181.71 570.0,181.31 571.0,180.91 572.0,180.51 L572.0,233.02 571.0,233.55 570.0,234.08 569.0,234.62 568.0,235.15 567.5,235.41 567.0,235.89 566.0,236.82 565.0,237.75 564.5,238.21 564.0,238.69 563.0,239.61 563.0,239.61 562.0,239.13 561.0,238.65 560.0,238.17 559.0,237.69 558.0,237.21 557.0,236.73 557.0,236.73 556.0,236.25 555.5,236.01 555.0,236.18 554.0,236.51 554.0,236.51 553.0,236.85 552.0,237.18 551.0,237.51 551.0,237.51 550.0,237.61 549.0,237.71 548.0,237.81 547.0,237.91 546.0,238.01 545.0,238.11 544.0,238.21 543.5,238.26 543.0,238.31 542.0,238.41 541.0,238.81 540.0,239.21 539.0,239.61 538.0,240.01 537.0,240.41 536.0,240.81 535.0,241.21 534.0,241.61 533.0,242.01 532.0,242.51 531.0,243.01 530.0,243.51 529.0,244.01 528.0,244.51 527.0,245.01 526.0,245.51 525.0,246.01 524.0,246.51 523.0,246.74 522.0,246.98 521.0,247.21 520.0,247.44 519.0,247.68 518.0,247.91 517.0,248.14 516.0,248.38 515.0,248.61 514.0,248.88 513.0,249.14 512.0,249.41 511.0,249.68 510.0,249.94 509.0,250.21 508.0,250.48 507.0,250.74 506.0,251.01 505.0,251.73 504.5,252.09 504.0,252.45 503.0,253.18 502.0,253.90 501.0,254.62 500.1,255.30 500.0,257.01 499.0,256.91 498.0,256.81 497.0,256.71 496.0,256.61 495.9,256.60 495.0,257.50 494.0,258.50 493.0,259.50 492.0,260.50 491.0,261.50 490.7,261.80 490.0,262.02 489.4,262.22 489.0,262.34 488.0,262.66 487.0,262.98 486.8,263.05 486.0,263.30 485.0,263.62 484.2,263.88 484.0,263.98 483.0,264.46 482.0,264.94 481.6,265.13 481.0,265.42 480.0,265.90 479.0,266.38 478.0,266.86 477.7,267.00 477.0,266.77 476.0,266.43 475.0,266.10 474.0,265.77 473.8,265.70 473.0,265.90 472.0,266.15 471.2,266.35 471.0,266.40 470.0,266.65 469.0,266.90 468.0,267.15 467.0,267.40 466.0,267.65 465.0,267.90 464.0,268.15 463.4,268.30 463.0,268.65 462.0,269.51 461.0,270.38 460.0,271.25 459.5,271.68 459.0,271.25 458.2,270.55 458.0,270.38 457.0,269.51 456.0,268.65 455.6,268.30 455.0,268.36 454.0,268.46 453.0,268.56 452.0,268.66 451.0,268.76 450.4,268.82 450.0,268.86 449.0,268.96 448.0,269.06 447.8,269.08 447.0,269.49 446.0,270.01 445.0,270.53 444.0,271.04 443.0,271.56 442.0,272.08 441.0,272.59 440.0,273.11 439.0,272.05 438.0,272.42 437.0,272.79 436.0,273.16 435.0,273.53 434.0,273.90 433.0,274.27 432.8,274.35 432.0,274.64 431.6,274.79 431.0,275.09 430.0,275.59 429.0,276.09 428.0,276.59 427.0,277.09 426.0,277.59 425.6,277.79 425.0,278.09 424.4,278.39 424.0,278.25 423.0,277.90 422.0,277.55 421.0,277.20 420.0,276.85 419.6,276.71 419.0,276.79 418.4,276.87 418.0,276.92 417.0,277.06 416.0,277.19 415.0,277.54 414.0,277.89 413.6,278.03 413.0,278.24 412.0,278.59 411.2,278.87 411.0,278.87 410.0,278.87 409.0,278.87 408.8,278.87 408.0,278.87 407.0,278.87 406.4,278.87 406.0,279.07 405.0,279.57 404.0,280.07 403.0,280.57 402.0,281.07 401.6,281.27 401.0,281.79 400.0,282.66 399.0,283.52 398.0,284.39 397.0,285.26 396.8,285.43 396.0,286.12 395.0,286.99 394.4,287.51 394.0,287.55 393.0,287.65 392.0,287.75 391.0,287.85 390.0,287.95 389.6,287.99 389.0,288.44 388.0,289.19 387.0,289.94 386.0,290.69 385.0,291.44 384.8,291.59 384.0,291.99 383.0,292.48 382.0,292.98 381.0,293.47 380.0,293.95 380.0,292.79 379.0,293.18 378.0,293.56 377.0,293.95 376.0,294.33 375.2,294.64 375.0,294.75 374.0,295.31 373.0,295.87 372.0,296.43 371.0,296.99 370.0,297.55 369.4,297.86 369.0,298.07 368.3,298.39 368.0,298.52 367.0,298.98 366.0,299.44 365.0,299.89 364.0,300.35 363.0,300.81 362.0,301.27 361.4,301.54 361.0,301.63 360.0,301.87 359.0,302.10 358.0,302.33 357.0,302.57 356.0,302.80 355.0,303.03 354.5,303.15 354.0,303.52 353.0,304.26 352.0,305.00 351.0,305.74 350.0,306.48 349.9,306.55 349.0,307.22 348.0,307.96 347.0,308.70 346.0,309.44 345.0,310.18 344.0,310.92 343.0,311.66 342.0,311.96 341.0,312.26 340.0,312.56 339.0,312.86 338.4,313.04 338.0,313.28 337.0,313.88 336.1,314.42 336.0,314.48 335.0,315.08 334.0,315.68 333.8,315.80 333.0,315.72 332.0,315.62 331.0,315.52 330.0,315.42 329.2,315.34 329.0,315.40 328.0,315.70 327.0,316.00 326.9,316.03 326.0,316.30 325.0,316.60 324.0,316.90 323.0,317.20 322.0,317.50 321.0,317.80 320.0,318.10 319.9,318.79 319.0,319.07 318.0,319.38 317.0,319.68 316.0,319.98 315.0,320.29 314.0,320.59 313.0,320.49 312.0,320.39 311.0,320.29 310.0,320.19 309.0,320.09 308.0,319.99 307.0,319.89 306.8,319.87 306.0,319.79 305.0,319.69 304.0,319.79 303.0,319.89 302.0,319.99 301.0,320.09 300.0,320.19 299.0,320.29 298.0,320.39 297.8,320.41 297.0,320.49 296.0,320.59 295.0,320.79 294.0,320.99 293.0,321.19 292.4,321.31 292.0,321.39 291.0,321.59 290.0,321.79 289.0,321.99 288.0,322.19 287.0,322.39 286.0,322.59 285.2,322.75 285.0,322.79 284.0,322.99 283.0,323.19 282.0,323.39 281.0,323.59 280.0,323.79 279.0,323.99 278.0,324.19 277.0,324.49 276.0,324.79 275.0,325.09 274.0,325.39 273.0,325.69 272.6,325.81 272.0,325.99 271.0,326.29 270.0,326.59 269.0,326.89 268.0,327.29 267.0,327.69 266.0,328.09 265.4,328.33 265.0,328.49 264.0,328.89 263.0,329.29 262.0,329.69 261.0,330.09 260.0,330.49 259.0,330.33 258.0,330.47 257.0,330.60 256.0,330.73 255.5,330.80 255.0,330.73 254.0,330.60 253.0,330.47 252.5,330.40 252.0,330.33 251.0,330.20 250.0,330.38 249.5,330.46 249.0,330.55 248.0,330.73 247.0,330.90 246.0,331.07 245.0,331.25 244.0,331.50 243.5,331.62 243.0,331.75 242.0,332.00 241.0,332.25 240.0,332.50 239.0,332.75 238.0,333.08 237.5,333.25 237.0,333.42 236.0,333.75 235.0,334.08 234.0,334.42 233.0,334.75 232.2,335.00 232.0,335.25 231.0,336.25 230.0,337.25 229.2,338.00 229.0,338.00 228.5,338.00 228.0,338.00 227.0,338.00 226.0,338.00 225.0,338.00 224.0,338.00 223.0,338.50 222.0,339.00 221.0,339.50 220.0,340.00 219.5,340.25 219.0,340.50 218.0,341.00 217.0,341.50 216.0,342.00 215.0,342.50 214.2,342.65 214.0,342.70 213.5,342.80 213.0,342.90 212.0,343.10 211.0,343.30 210.0,343.50 209.0,343.70 208.0,343.90 207.0,344.10 206.0,344.30 205.0,344.28 204.0,344.25 203.0,344.23 202.0,344.21 201.0,344.18 200.0,344.16 199.0,344.21 198.0,344.42 197.0,344.62 196.4,344.75 196.0,344.83 195.2,345.00 195.0,345.02 194.0,345.15 193.0,345.28 192.8,345.30 192.0,345.40 191.0,345.53 190.4,345.60 190.0,345.70 189.2,345.90 189.0,345.95 188.0,346.20 187.0,346.45 186.0,346.70 185.6,346.80 185.0,346.92 184.4,347.04 184.0,347.12 183.2,347.28 183.0,347.32 182.0,347.52 181.0,347.72 180.0,347.92 179.6,348.00 179.0,348.23 178.4,348.45 178.0,348.60 177.0,348.98 176.0,349.35 175.0,349.73 174.8,349.80 174.0,349.88 173.6,349.92 173.0,349.98 172.0,350.08 171.0,350.18 170.0,350.28 169.0,350.38 168.8,350.40 168.0,350.60 167.0,350.85 166.0,351.10 165.2,351.30 165.0,351.35 164.0,351.60 163.0,351.40 162.0,351.20 161.6,351.12 161.0,351.00 160.4,350.88 160.0,350.80 159.2,350.64 159.0,350.60 158.0,350.40 157.0,351.57 156.8,351.80 156.0,352.73 155.6,353.20 155.0,353.90 154.4,354.60 154.0,354.45 153.0,354.08 152.0,353.70 151.0,353.32 150.0,352.95 149.6,352.80 149.0,352.80 148.0,352.80 147.2,352.80 147.0,352.80 146.0,352.80 145.0,352.80 144.8,352.80 144.0,353.20 143.6,353.40 143.0,353.70 142.0,354.20 141.0,354.70 140.0,355.20 140.0,355.90 139.0,356.11 138.0,356.34 137.0,356.56 136.0,356.78 135.0,357.00 135.0,357.00 134.0,357.20 133.0,357.40 132.0,357.60 131.0,357.80 130.0,358.00 129.5,358.10 129.0,358.20 128.0,358.40 127.0,358.60 126.0,358.80 125.0,359.00 124.0,359.20 123.0,359.13 122.0,359.07 121.0,359.00 120.7,358.98 120.0,358.34 119.0,357.42 118.0,356.50 118.0,356.45 117.4,355.90 117.0,355.50 116.0,354.50 115.2,353.70 115.0,353.67 114.0,353.50 113.0,353.33 112.0,353.17 111.9,353.15 111.0,353.22 110.0,353.29 109.0,353.37 108.0,353.44 107.5,353.48 107.0,353.72 106.0,354.21 105.0,354.69 104.0,355.18 103.7,355.35 103.0,356.21 102.0,357.53 101.0,358.85 100.9,358.98 100.0,358.91 99.0,358.84 98.0,358.76 97.0,358.69 96.5,358.65 96.0,358.90 95.0,359.40 94.0,359.90 93.0,360.40 92.1,360.85 92.0,360.92 91.0,361.58 90.0,362.24 89.0,362.90 88.8,363.03 88.0,363.56 87.0,364.22 86.6,364.48 86.0,371.36 85.5,377.09 85.0,382.83 85.0,383.40 84.6,383.95 84.4,384.11 84.0,384.39 83.0,385.10 82.8,385.28 82.0,385.34 81.0,385.42 80.0,385.50Z" fill="rgba(210,80,86,0.62)"/>
<path d="M80.0,385.39 81.0,385.27 82.0,385.15 82.8,385.06 83.0,384.81 84.0,383.80 84.4,383.40 84.6,381.42 85.0,378.45 85.0,378.00 85.5,373.50 86.0,368.75 86.6,363.05 87.0,362.79 88.0,362.14 88.8,361.62 89.0,361.44 90.0,360.54 91.0,359.64 92.0,358.74 92.1,358.65 93.0,358.04 94.0,357.37 95.0,356.69 96.0,356.02 96.5,355.68 97.0,355.61 98.0,355.45 99.0,355.31 100.0,355.15 100.9,355.02 101.0,354.89 102.0,353.61 103.0,352.33 103.7,351.50 104.0,351.30 105.0,350.73 106.0,350.16 107.0,349.59 107.5,349.30 108.0,349.12 109.0,348.76 110.0,348.40 111.0,348.04 111.9,347.72 112.0,347.68 113.0,347.32 114.0,347.22 115.0,347.12 115.2,347.10 116.0,347.02 117.0,346.92 117.4,346.88 118.0,346.81 118.0,346.80 119.0,346.67 120.0,346.53 120.7,346.44 121.0,346.40 122.0,346.27 123.0,346.13 124.0,346.00 125.0,345.76 126.0,345.52 127.0,345.28 128.0,345.04 129.0,344.80 129.5,344.68 130.0,344.52 131.0,344.20 132.0,343.88 133.0,343.56 134.0,343.24 135.0,342.92 135.0,342.92 136.0,342.55 137.0,342.17 138.0,341.79 139.0,341.41 140.0,341.05 140.0,341.40 141.0,340.73 142.0,340.07 143.0,339.40 143.6,339.00 144.0,338.91 144.8,338.72 145.0,338.67 146.0,338.44 147.0,338.21 147.2,338.16 148.0,337.80 149.0,337.35 149.6,337.08 150.0,336.90 151.0,336.45 152.0,336.00 153.0,335.73 154.0,335.47 154.4,335.36 155.0,335.20 155.6,335.04 156.0,334.40 156.8,333.12 157.0,332.80 158.0,331.20 159.0,330.20 159.2,330.00 160.0,329.20 160.4,328.80 161.0,328.56 161.6,328.32 162.0,328.16 163.0,327.76 164.0,327.36 165.0,326.79 165.2,326.67 166.0,326.21 167.0,325.64 168.0,325.06 168.8,324.60 169.0,324.53 170.0,324.15 171.0,323.78 172.0,323.40 173.0,323.03 173.6,322.80 174.0,322.68 174.8,322.44 175.0,322.38 176.0,322.08 177.0,321.78 178.0,321.48 178.4,321.36 179.0,321.17 179.6,320.97 180.0,320.84 181.0,320.51 182.0,320.19 183.0,319.87 183.2,319.80 184.0,319.30 184.4,319.05 185.0,318.68 185.6,318.30 186.0,318.05 187.0,317.43 188.0,316.80 189.0,316.43 189.2,316.35 190.0,316.05 190.4,315.90 191.0,315.68 192.0,315.30 192.8,315.00 193.0,314.95 194.0,314.72 195.0,314.49 195.2,314.44 196.0,314.25 196.4,314.16 197.0,313.96 198.0,313.63 199.0,313.29 200.0,313.25 201.0,312.88 202.0,312.50 203.0,312.12 204.0,311.75 205.0,311.38 206.0,311.00 207.0,310.40 208.0,309.80 209.0,309.20 210.0,308.97 211.0,308.74 212.0,308.51 213.0,308.29 213.5,308.17 214.0,308.06 214.2,308.00 215.0,307.57 216.0,307.00 217.0,306.43 218.0,305.86 219.0,305.29 219.5,305.00 220.0,304.63 221.0,303.90 222.0,303.17 223.0,302.43 224.0,301.70 225.0,301.10 226.0,300.50 227.0,299.90 228.0,299.30 228.5,299.00 229.0,298.36 229.2,298.04 230.0,297.08 231.0,295.80 232.0,294.52 232.2,294.20 233.0,293.86 234.0,293.40 235.0,292.94 236.0,292.49 237.0,292.03 237.5,291.80 238.0,291.55 239.0,291.05 240.0,290.55 241.0,290.05 242.0,289.55 243.0,289.05 243.5,288.80 244.0,288.60 245.0,288.20 246.0,287.80 247.0,287.40 248.0,287.00 249.0,286.83 249.5,286.75 250.0,286.67 251.0,286.50 252.0,286.33 252.5,286.25 253.0,286.03 254.0,285.60 255.0,285.17 255.5,284.95 256.0,284.73 257.0,284.30 258.0,283.92 259.0,283.54 260.0,283.25 261.0,282.57 262.0,281.88 263.0,281.20 264.0,280.52 265.0,279.83 265.4,279.56 266.0,279.38 267.0,279.08 268.0,278.78 269.0,278.48 270.0,278.18 271.0,277.88 272.0,277.58 272.6,277.40 273.0,277.20 274.0,276.70 275.0,276.20 276.0,275.70 277.0,275.20 278.0,274.70 279.0,274.52 280.0,274.35 281.0,274.18 282.0,274.00 283.0,273.82 284.0,273.65 285.0,273.48 285.2,273.44 286.0,273.08 287.0,272.63 288.0,272.18 289.0,271.73 290.0,271.28 291.0,270.83 292.0,270.38 292.4,270.20 293.0,269.96 294.0,269.56 295.0,269.16 296.0,268.76 297.0,268.36 297.8,268.04 298.0,268.01 299.0,267.85 300.0,267.69 301.0,267.53 302.0,267.37 303.0,267.21 304.0,267.05 305.0,266.89 306.0,266.73 306.8,266.60 307.0,266.51 308.0,266.06 309.0,265.61 310.0,265.16 311.0,264.71 312.0,264.26 313.0,263.81 314.0,263.36 315.0,262.94 316.0,262.51 317.0,262.09 318.0,261.66 319.0,261.24 319.9,260.84 320.0,259.45 321.0,259.12 322.0,258.78 323.0,258.45 324.0,258.12 325.0,257.78 326.0,257.45 326.9,257.15 327.0,257.09 328.0,256.52 329.0,255.94 329.2,255.83 330.0,255.37 331.0,254.79 332.0,254.22 333.0,253.64 333.8,253.18 334.0,253.07 335.0,252.49 336.0,251.92 336.1,251.86 337.0,251.35 338.0,250.78 338.4,250.56 339.0,250.22 340.0,249.65 341.0,249.08 342.0,248.52 343.0,247.95 344.0,247.18 345.0,246.42 346.0,245.65 347.0,244.88 348.0,244.12 349.0,243.35 349.9,242.66 350.0,242.56 351.0,241.56 352.0,240.56 353.0,239.56 354.0,238.56 354.5,238.06 355.0,237.83 356.0,237.36 357.0,236.89 358.0,236.43 359.0,235.96 360.0,235.49 361.0,235.03 361.4,234.84 362.0,234.44 363.0,233.77 364.0,233.11 365.0,232.44 366.0,231.77 367.0,231.11 368.0,230.44 368.3,230.24 369.0,229.63 369.4,229.24 370.0,228.77 371.0,227.90 372.0,227.03 373.0,226.17 374.0,225.30 375.0,224.43 375.2,224.26 376.0,224.16 377.0,224.04 378.0,223.92 379.0,223.80 380.0,223.68 380.0,223.80 381.0,223.43 382.0,223.06 383.0,222.68 384.0,222.30 384.8,222.00 385.0,221.77 386.0,220.62 387.0,219.47 388.0,218.32 389.0,217.17 389.6,216.48 390.0,216.40 391.0,216.20 392.0,216.00 393.0,215.80 394.0,215.60 394.4,215.52 395.0,214.96 396.0,214.03 396.8,213.28 397.0,213.09 398.0,212.16 399.0,211.23 400.0,210.29 401.0,209.36 401.6,208.80 402.0,208.51 403.0,207.77 404.0,207.04 405.0,206.31 406.0,205.57 406.4,205.28 407.0,204.84 408.0,204.11 408.8,203.52 409.0,203.39 410.0,202.74 411.0,202.09 411.2,201.96 412.0,201.44 413.0,200.79 413.6,200.40 414.0,200.30 415.0,200.05 416.0,199.80 417.0,199.55 418.0,199.30 418.4,199.20 419.0,198.90 419.6,198.60 420.0,198.40 421.0,197.90 422.0,197.40 423.0,196.90 424.0,196.40 424.4,196.20 425.0,195.90 425.6,195.60 426.0,195.33 427.0,194.67 428.0,194.00 429.0,193.33 430.0,192.67 431.0,192.00 431.6,191.60 432.0,191.33 432.8,190.80 433.0,190.69 434.0,190.15 435.0,189.61 436.0,189.08 437.0,188.54 438.0,188.00 439.0,187.46 440.0,188.40 441.0,187.64 442.0,186.89 443.0,186.13 444.0,185.37 445.0,184.62 446.0,183.86 447.0,183.11 447.8,182.50 448.0,182.40 449.0,181.90 450.0,181.40 450.4,181.20 451.0,180.90 452.0,180.40 453.0,179.90 454.0,179.40 455.0,178.90 455.6,178.60 456.0,178.31 457.0,177.57 458.0,176.84 458.2,176.69 459.0,176.11 459.5,175.74 460.0,175.37 461.0,174.64 462.0,173.91 463.0,173.17 463.4,172.88 464.0,172.68 465.0,172.35 466.0,172.01 467.0,171.68 468.0,171.35 469.0,171.01 470.0,170.68 471.0,170.35 471.2,170.28 472.0,170.07 473.0,169.80 473.8,169.59 474.0,169.53 475.0,169.27 476.0,169.00 477.0,168.73 477.7,168.55 478.0,168.47 479.0,168.20 480.0,167.80 481.0,167.40 481.6,167.16 482.0,167.00 483.0,166.60 484.0,166.20 484.2,166.12 485.0,165.80 486.0,165.40 486.8,165.08 487.0,164.98 488.0,164.48 489.0,163.98 489.4,163.78 490.0,163.48 490.7,163.13 491.0,162.98 492.0,162.48 493.0,161.28 494.0,160.08 495.0,158.88 495.9,157.80 496.0,157.73 497.0,157.05 498.0,156.37 499.0,155.68 500.0,155.00 500.1,155.20 501.0,154.46 502.0,153.66 503.0,152.87 504.0,152.08 504.5,151.69 505.0,151.29 506.0,150.50 507.0,149.73 508.0,148.97 509.0,148.20 510.0,147.43 511.0,146.67 512.0,145.90 513.0,145.13 514.0,144.37 515.0,143.60 516.0,143.27 517.0,142.93 518.0,142.60 519.0,142.27 520.0,141.93 521.0,141.60 522.0,141.27 523.0,140.93 524.0,140.60 525.0,139.87 526.0,139.13 527.0,138.40 528.0,137.67 529.0,136.93 530.0,136.20 531.0,135.47 532.0,134.73 533.0,134.00 534.0,133.75 535.0,133.50 536.0,133.25 537.0,133.00 538.0,132.75 539.0,132.50 540.0,131.50 541.0,130.50 542.0,129.50 543.0,128.50 543.5,128.00 544.0,127.86 545.0,127.57 546.0,127.29 547.0,127.00 548.0,126.72 549.0,126.43 550.0,126.14 551.0,125.86 551.0,125.86 552.0,125.57 553.0,125.29 554.0,125.00 554.0,125.00 555.0,124.50 555.5,124.25 556.0,124.00 557.0,123.50 557.0,123.50 558.0,123.00 559.0,122.50 560.0,122.00 561.0,121.50 562.0,121.00 563.0,120.50 563.0,120.50 564.0,119.84 564.5,119.50 565.0,119.17 566.0,118.51 567.0,117.84 567.5,117.50 568.0,117.17 569.0,116.51 570.0,115.84 571.0,115.17 572.0,114.51 L572.0,180.51 571.0,180.91 570.0,181.31 569.0,181.71 568.0,182.11 567.5,182.31 567.0,182.51 566.0,182.91 565.0,183.31 564.5,183.51 564.0,183.71 563.0,184.11 563.0,184.11 562.0,184.51 561.0,184.91 560.0,185.31 559.0,185.71 558.0,186.11 557.0,186.51 557.0,186.51 556.0,186.95 555.5,187.16 555.0,187.38 554.0,187.81 554.0,187.81 553.0,188.25 552.0,188.68 551.0,189.11 551.0,189.11 550.0,189.54 549.0,189.98 548.0,190.41 547.0,189.74 546.0,189.08 545.0,188.41 544.0,187.74 543.5,187.41 543.0,187.81 542.0,188.61 541.0,189.41 540.0,190.21 539.0,191.01 538.0,191.26 537.0,191.51 536.0,191.76 535.0,192.01 534.0,192.26 533.0,192.51 532.0,193.28 531.0,194.04 530.0,194.81 529.0,195.58 528.0,196.34 527.0,197.11 526.0,197.88 525.0,198.64 524.0,199.41 523.0,199.74 522.0,200.08 521.0,200.41 520.0,200.74 519.0,201.08 518.0,201.41 517.0,201.74 516.0,202.08 515.0,202.41 514.0,203.10 513.0,203.78 512.0,204.47 511.0,205.15 510.0,205.84 509.0,206.52 508.0,207.21 507.0,207.90 506.0,208.58 505.0,209.27 504.5,209.61 504.0,209.69 503.0,209.85 502.0,210.01 501.0,210.17 500.1,210.32 500.0,210.51 499.0,209.83 498.0,209.15 497.0,208.47 496.0,207.79 495.9,207.72 495.0,208.44 494.0,209.24 493.0,210.04 492.0,210.84 491.0,211.64 490.7,211.88 490.0,212.44 489.4,212.92 489.0,213.13 488.0,213.67 487.0,214.20 486.8,214.31 486.0,214.73 485.0,215.27 484.2,215.69 484.0,215.80 483.0,216.33 482.0,216.87 481.6,217.08 481.0,217.28 480.0,217.61 479.0,217.95 478.0,218.28 477.7,218.38 477.0,218.61 476.0,218.95 475.0,219.28 474.0,219.61 473.8,219.68 473.0,219.92 472.0,220.22 471.2,220.46 471.0,220.52 470.0,220.82 469.0,221.12 468.0,221.42 467.0,221.72 466.0,222.02 465.0,222.32 464.0,222.62 463.4,222.80 463.0,223.16 462.0,224.06 461.0,224.96 460.0,225.86 459.5,226.31 459.0,226.76 458.2,227.48 458.0,227.57 457.0,228.04 456.0,228.51 455.6,228.69 455.0,228.97 454.0,229.44 453.0,229.91 452.0,230.37 451.0,230.84 450.4,231.12 450.0,231.35 449.0,231.93 448.0,232.50 447.8,232.62 447.0,233.08 446.0,233.66 445.0,234.24 444.0,234.81 443.0,235.39 442.0,235.97 441.0,236.54 440.0,237.12 439.0,237.45 438.0,237.79 437.0,238.14 436.0,238.48 435.0,238.83 434.0,239.17 433.0,239.52 432.8,239.59 432.0,239.86 431.6,240.00 431.0,240.36 430.0,240.96 429.0,241.56 428.0,242.16 427.0,242.75 426.0,243.35 425.6,243.59 425.0,243.95 424.4,244.31 424.0,244.19 423.0,243.89 422.0,243.59 421.0,243.29 420.0,242.99 419.6,242.87 419.0,242.71 418.4,242.55 418.0,242.45 417.0,242.18 416.0,241.92 415.0,242.02 414.0,242.12 413.6,242.16 413.0,242.22 412.0,242.32 411.2,242.40 411.0,242.59 410.0,243.52 409.0,244.45 408.8,244.64 408.0,245.38 407.0,246.31 406.4,246.87 406.0,247.25 405.0,248.18 404.0,249.11 403.0,250.01 402.0,250.91 401.6,251.27 401.0,251.81 400.0,252.71 399.0,253.61 398.0,254.51 397.0,255.41 396.8,255.59 396.0,255.86 395.0,256.19 394.4,256.39 394.0,256.52 393.0,256.86 392.0,257.19 391.0,257.52 390.0,257.86 389.6,257.99 389.0,258.59 388.0,259.59 387.0,260.59 386.0,261.59 385.0,262.59 384.8,262.79 384.0,263.12 383.0,263.53 382.0,263.93 381.0,264.34 380.0,264.74 380.0,264.47 379.0,264.62 378.0,264.77 377.0,264.93 376.0,265.08 375.2,265.20 375.0,265.38 374.0,266.26 373.0,267.14 372.0,268.02 371.0,268.90 370.0,269.78 369.4,270.26 369.0,270.56 368.3,271.02 368.0,271.21 367.0,271.87 366.0,272.53 365.0,273.18 364.0,273.84 363.0,274.50 362.0,275.16 361.4,275.55 361.0,275.62 360.0,275.78 359.0,275.95 358.0,276.12 357.0,276.28 356.0,276.45 355.0,276.62 354.5,276.70 354.0,277.10 353.0,277.90 352.0,278.70 351.0,279.50 350.0,280.30 349.9,280.38 349.0,281.10 348.0,281.90 347.0,282.70 346.0,283.50 345.0,284.30 344.0,285.10 343.0,285.90 342.0,286.30 341.0,286.70 340.0,287.10 339.0,287.50 338.4,287.74 338.0,287.86 337.0,288.16 336.1,288.43 336.0,288.46 335.0,288.76 334.0,289.06 333.8,289.12 333.0,289.36 332.0,289.66 331.0,289.96 330.0,290.26 329.2,290.50 329.0,290.57 328.0,290.95 327.0,291.32 326.9,291.36 326.0,291.70 325.0,292.07 324.0,292.45 323.0,292.82 322.0,293.20 321.0,293.57 320.0,293.95 319.9,295.04 319.0,295.24 318.0,295.45 317.0,295.66 316.0,295.88 315.0,296.09 314.0,296.30 313.0,296.50 312.0,296.70 311.0,296.90 310.0,297.10 309.0,297.30 308.0,297.50 307.0,297.70 306.8,297.74 306.0,297.90 305.0,298.10 304.0,298.24 303.0,298.38 302.0,298.52 301.0,298.66 300.0,298.80 299.0,298.94 298.0,299.08 297.8,299.11 297.0,299.22 296.0,299.36 295.0,299.68 294.0,300.00 293.0,300.32 292.4,300.51 292.0,300.64 291.0,300.96 290.0,301.28 289.0,301.60 288.0,301.92 287.0,302.24 286.0,302.48 285.2,302.67 285.0,302.72 284.0,302.96 283.0,303.20 282.0,303.44 281.0,303.68 280.0,303.92 279.0,304.16 278.0,304.40 277.0,304.90 276.0,305.40 275.0,305.90 274.0,306.40 273.0,306.90 272.6,307.10 272.0,307.32 271.0,307.70 270.0,308.07 269.0,308.45 268.0,308.82 267.0,309.19 266.0,309.57 265.4,309.79 265.0,310.05 264.0,310.69 263.0,311.33 262.0,311.97 261.0,312.61 260.0,313.25 259.0,313.39 258.0,313.75 257.0,314.12 256.0,314.48 255.5,314.66 255.0,314.84 254.0,315.20 253.0,315.20 252.5,315.20 252.0,315.20 251.0,315.20 250.0,315.20 249.5,315.20 249.0,315.32 248.0,315.55 247.0,315.78 246.0,316.02 245.0,316.25 244.0,316.57 243.5,316.74 243.0,316.90 242.0,317.23 241.0,317.55 240.0,317.88 239.0,318.20 238.0,318.47 237.5,318.60 237.0,318.73 236.0,319.00 235.0,319.27 234.0,319.53 233.0,319.80 232.2,320.00 232.0,320.37 231.0,321.83 230.0,323.30 229.2,323.64 229.0,323.75 228.5,323.98 228.0,324.20 227.0,324.65 226.0,325.10 225.0,325.55 224.0,326.00 223.0,326.83 222.0,327.67 221.0,328.50 220.0,329.33 219.5,329.75 219.0,330.06 218.0,330.69 217.0,331.31 216.0,331.94 215.0,332.56 214.2,333.03 214.0,333.19 213.5,333.50 213.0,333.55 212.0,333.65 211.0,333.75 210.0,333.85 209.0,333.95 208.0,334.05 207.0,334.15 206.0,334.25 205.0,334.07 204.0,333.90 203.0,333.73 202.0,333.55 201.0,333.38 200.0,333.20 199.0,333.20 198.0,333.40 197.0,333.60 196.4,333.72 196.0,333.80 195.2,333.96 195.0,334.00 194.0,334.20 193.0,334.45 192.8,334.50 192.0,334.70 191.0,334.95 190.4,335.10 190.0,335.20 189.2,335.40 189.0,335.50 188.0,336.00 187.0,336.50 186.0,337.00 185.6,337.20 185.0,337.50 184.4,337.80 184.0,337.90 183.2,338.10 183.0,338.15 182.0,338.40 181.0,338.65 180.0,338.90 179.6,339.00 179.0,339.23 178.4,339.45 178.0,339.60 177.0,339.98 176.0,340.35 175.0,340.73 174.8,340.80 174.0,340.96 173.6,341.04 173.0,341.16 172.0,341.36 171.0,341.56 170.0,341.76 169.0,341.86 168.8,341.88 168.0,341.96 167.0,342.06 166.0,342.16 165.2,342.24 165.0,342.19 164.0,341.96 163.0,341.73 162.0,341.49 161.6,341.40 161.0,341.61 160.4,341.82 160.0,341.96 159.2,342.24 159.0,342.62 158.0,344.52 157.0,346.42 156.8,346.80 156.0,347.20 155.6,347.40 155.0,347.70 154.4,348.00 154.0,348.05 153.0,348.18 152.0,348.30 151.0,348.43 150.0,348.55 149.6,348.60 149.0,348.75 148.0,349.00 147.2,349.20 147.0,349.25 146.0,349.50 145.0,349.75 144.8,349.80 144.0,350.20 143.6,350.40 143.0,350.70 142.0,351.20 141.0,351.70 140.0,352.20 140.0,352.38 139.0,352.74 138.0,353.12 137.0,353.50 136.0,353.88 135.0,354.25 135.0,354.25 134.0,354.65 133.0,355.05 132.0,355.45 131.0,355.85 130.0,356.25 129.5,356.45 129.0,356.55 128.0,356.75 127.0,356.95 126.0,357.15 125.0,357.35 124.0,357.55 123.0,357.38 122.0,357.22 121.0,357.05 120.7,357.00 120.0,356.44 119.0,355.64 118.0,354.84 118.0,354.80 117.4,354.32 117.0,353.96 116.0,353.08 115.2,352.38 115.0,352.31 114.0,351.98 113.0,351.65 112.0,351.31 111.9,351.28 111.0,351.55 110.0,351.85 109.0,352.15 108.0,352.45 107.5,352.60 107.0,352.81 106.0,353.24 105.0,353.67 104.0,354.10 103.7,354.25 103.0,355.03 102.0,356.23 101.0,357.43 100.9,357.55 100.0,357.44 99.0,357.31 98.0,357.19 97.0,357.06 96.5,357.00 96.0,357.35 95.0,358.05 94.0,358.75 93.0,359.45 92.1,360.08 92.0,360.15 91.0,360.83 90.0,361.51 89.0,362.19 88.8,362.32 88.0,362.87 87.0,363.55 86.6,363.82 86.0,369.92 85.5,375.00 85.0,380.09 85.0,380.59 84.6,383.95 84.4,384.11 84.0,384.39 83.0,385.10 82.8,385.28 82.0,385.34 81.0,385.42 80.0,385.50Z" fill="rgba(134,99,209,0.62)"/>
<path d="M80.0,385.72 81.0,385.72 82.0,385.72 82.8,385.72 83.0,385.57 84.0,384.97 84.4,384.73 84.6,384.60 85.0,384.40 85.0,383.83 85.5,378.09 86.0,372.36 86.6,365.48 87.0,365.22 88.0,364.56 88.8,364.03 89.0,363.90 90.0,363.24 91.0,362.58 92.0,361.92 92.1,361.85 93.0,361.40 94.0,360.90 95.0,360.40 96.0,359.90 96.5,359.65 97.0,359.69 98.0,359.76 99.0,359.84 100.0,359.91 100.9,359.98 101.0,359.85 102.0,358.53 103.0,357.21 103.7,356.35 104.0,356.18 105.0,355.69 106.0,355.21 107.0,354.72 107.5,354.48 108.0,354.44 109.0,354.37 110.0,354.29 111.0,354.22 111.9,354.15 112.0,354.17 113.0,354.33 114.0,354.50 115.0,354.67 115.2,354.70 116.0,355.50 117.0,356.50 117.4,356.90 118.0,357.45 118.0,357.50 119.0,358.42 120.0,359.34 120.7,359.98 121.0,360.00 122.0,360.07 123.0,360.13 124.0,360.20 125.0,360.00 126.0,359.80 127.0,359.60 128.0,359.40 129.0,359.20 129.5,359.10 130.0,359.00 131.0,358.80 132.0,358.60 133.0,358.40 134.0,358.20 135.0,358.00 135.0,358.00 136.0,357.78 137.0,357.56 138.0,357.34 139.0,357.11 140.0,356.90 140.0,356.20 141.0,355.70 142.0,355.20 143.0,354.70 143.6,354.40 144.0,354.20 144.8,353.80 145.0,353.80 146.0,353.80 147.0,353.80 147.2,353.80 148.0,353.80 149.0,353.80 149.6,353.80 150.0,353.95 151.0,354.32 152.0,354.70 153.0,355.08 154.0,355.45 154.4,355.60 155.0,354.90 155.6,354.20 156.0,353.73 156.8,352.80 157.0,352.57 158.0,351.40 159.0,351.60 159.2,351.64 160.0,351.80 160.4,351.88 161.0,352.00 161.6,352.12 162.0,352.20 163.0,352.40 164.0,352.60 165.0,352.35 165.2,352.30 166.0,352.10 167.0,351.85 168.0,351.60 168.8,351.40 169.0,351.38 170.0,351.28 171.0,351.18 172.0,351.08 173.0,350.98 173.6,350.92 174.0,350.88 174.8,350.80 175.0,350.73 176.0,350.35 177.0,349.98 178.0,349.60 178.4,349.45 179.0,349.23 179.6,349.00 180.0,348.92 181.0,348.72 182.0,348.52 183.0,348.32 183.2,348.28 184.0,348.12 184.4,348.04 185.0,347.92 185.6,347.80 186.0,347.70 187.0,347.45 188.0,347.20 189.0,346.95 189.2,346.90 190.0,346.70 190.4,346.60 191.0,346.53 192.0,346.40 192.8,346.30 193.0,346.28 194.0,346.15 195.0,346.02 195.2,346.00 196.0,345.83 196.4,345.75 197.0,345.62 198.0,345.42 199.0,345.21 200.0,345.16 201.0,345.18 202.0,345.21 203.0,345.23 204.0,345.25 205.0,345.28 206.0,345.30 207.0,345.10 208.0,344.90 209.0,344.70 210.0,344.50 211.0,344.30 212.0,344.10 213.0,343.90 213.5,343.80 214.0,343.70 214.2,343.65 215.0,343.50 216.0,343.00 217.0,342.50 218.0,342.00 219.0,341.50 219.5,341.25 220.0,341.00 221.0,340.50 222.0,340.00 223.0,339.50 224.0,339.00 225.0,339.00 226.0,339.00 227.0,339.00 228.0,339.00 228.5,339.00 229.0,339.00 229.2,339.00 230.0,338.25 231.0,337.25 232.0,336.25 232.2,336.00 233.0,335.75 234.0,335.42 235.0,335.08 236.0,334.75 237.0,334.42 237.5,334.25 238.0,334.08 239.0,333.75 240.0,333.50 241.0,333.25 242.0,333.00 243.0,332.75 243.5,332.62 244.0,332.50 245.0,332.25 246.0,332.07 247.0,331.90 248.0,331.73 249.0,331.55 249.5,331.46 250.0,331.38 251.0,331.20 252.0,331.33 252.5,331.40 253.0,331.47 254.0,331.60 255.0,331.73 255.5,331.80 256.0,331.73 257.0,331.60 258.0,331.47 259.0,331.33 260.0,331.49 261.0,331.09 262.0,330.69 263.0,330.29 264.0,329.89 265.0,329.49 265.4,329.33 266.0,329.09 267.0,328.69 268.0,328.29 269.0,327.89 270.0,327.59 271.0,327.29 272.0,326.99 272.6,326.81 273.0,326.69 274.0,326.39 275.0,326.09 276.0,325.79 277.0,325.49 278.0,325.19 279.0,324.99 280.0,324.79 281.0,324.59 282.0,324.39 283.0,324.19 284.0,323.99 285.0,323.79 285.2,323.75 286.0,323.59 287.0,323.39 288.0,323.19 289.0,322.99 290.0,322.79 291.0,322.59 292.0,322.39 292.4,322.31 293.0,322.19 294.0,321.99 295.0,321.79 296.0,321.59 297.0,321.49 297.8,321.41 298.0,321.39 299.0,321.29 300.0,321.19 301.0,321.09 302.0,320.99 303.0,320.89 304.0,320.79 305.0,320.69 306.0,320.79 306.8,320.87 307.0,320.89 308.0,320.99 309.0,321.09 310.0,321.19 311.0,321.29 312.0,321.39 313.0,321.49 314.0,321.59 315.0,321.29 316.0,320.98 317.0,320.68 318.0,320.38 319.0,320.07 319.9,319.79 320.0,319.10 321.0,318.80 322.0,318.50 323.0,318.20 324.0,317.90 325.0,317.60 326.0,317.30 326.9,317.03 327.0,317.00 328.0,316.70 329.0,316.40 329.2,316.34 330.0,316.42 331.0,316.52 332.0,316.62 333.0,316.72 333.8,316.80 334.0,316.68 335.0,316.08 336.0,315.48 336.1,315.42 337.0,314.88 338.0,314.28 338.4,314.04 339.0,313.86 340.0,313.56 341.0,313.26 342.0,312.96 343.0,312.66 344.0,311.92 345.0,311.18 346.0,310.44 347.0,309.70 348.0,308.96 349.0,308.22 349.9,307.55 350.0,307.48 351.0,306.74 352.0,306.00 353.0,305.26 354.0,304.52 354.5,304.15 355.0,304.03 356.0,303.80 357.0,303.57 358.0,303.33 359.0,303.10 360.0,302.87 361.0,302.63 361.4,302.54 362.0,302.27 363.0,301.81 364.0,301.35 365.0,300.89 366.0,300.44 367.0,299.98 368.0,299.52 368.3,299.39 369.0,299.07 369.4,298.86 370.0,298.55 371.0,297.99 372.0,297.43 373.0,296.87 374.0,296.31 375.0,295.75 375.2,295.64 376.0,295.33 377.0,294.95 378.0,294.56 379.0,294.18 380.0,293.79 380.0,294.95 381.0,294.47 382.0,293.98 383.0,293.48 384.0,292.99 384.8,292.59 385.0,292.44 386.0,291.69 387.0,290.94 388.0,290.19 389.0,289.44 389.6,288.99 390.0,288.95 391.0,288.85 392.0,288.75 393.0,288.65 394.0,288.55 394.4,288.51 395.0,287.99 396.0,287.12 396.8,286.43 397.0,286.26 398.0,285.39 399.0,284.52 400.0,283.66 401.0,282.79 401.6,282.27 402.0,282.07 403.0,281.57 404.0,281.07 405.0,280.57 406.0,280.07 406.4,279.87 407.0,279.87 408.0,279.87 408.8,279.87 409.0,279.87 410.0,279.87 411.0,279.87 411.2,279.87 412.0,279.59 413.0,279.24 413.6,279.03 414.0,278.89 415.0,278.54 416.0,278.19 417.0,278.06 418.0,277.92 418.4,277.87 419.0,277.79 419.6,277.71 420.0,277.85 421.0,278.20 422.0,278.55 423.0,278.90 424.0,279.25 424.4,279.39 425.0,279.09 425.6,278.79 426.0,278.59 427.0,278.09 428.0,277.59 429.0,277.09 430.0,276.59 431.0,276.09 431.6,275.79 432.0,275.64 432.8,275.35 433.0,275.27 434.0,274.90 435.0,274.53 436.0,274.16 437.0,273.79 438.0,273.42 439.0,273.05 440.0,274.11 441.0,273.59 442.0,273.08 443.0,272.56 444.0,272.04 445.0,271.53 446.0,271.01 447.0,270.49 447.8,270.08 448.0,270.06 449.0,269.96 450.0,269.86 450.4,269.82 451.0,269.76 452.0,269.66 453.0,269.56 454.0,269.46 455.0,269.36 455.6,269.30 456.0,269.65 457.0,270.51 458.0,271.38 458.2,271.55 459.0,272.25 459.5,272.68 460.0,272.25 461.0,271.38 462.0,270.51 463.0,269.65 463.4,269.30 464.0,269.15 465.0,268.90 466.0,268.65 467.0,268.40 468.0,268.15 469.0,267.90 470.0,267.65 471.0,267.40 471.2,267.35 472.0,267.15 473.0,266.90 473.8,266.70 474.0,266.77 475.0,267.10 476.0,267.43 477.0,267.77 477.7,268.00 478.0,267.86 479.0,267.38 480.0,266.90 481.0,266.42 481.6,266.13 482.0,265.94 483.0,265.46 484.0,264.98 484.2,264.88 485.0,264.62 486.0,264.30 486.8,264.05 487.0,263.98 488.0,263.66 489.0,263.34 489.4,263.22 490.0,263.02 490.7,262.80 491.0,262.50 492.0,261.50 493.0,260.50 494.0,259.50 495.0,258.50 495.9,257.60 496.0,257.61 497.0,257.71 498.0,257.81 499.0,257.91 500.0,258.01 500.1,256.30 501.0,255.62 502.0,254.90 503.0,254.18 504.0,253.45 504.5,253.09 505.0,252.73 506.0,252.01 507.0,251.74 508.0,251.48 509.0,251.21 510.0,250.94 511.0,250.68 512.0,250.41 513.0,250.14 514.0,249.88 515.0,249.61 516.0,249.38 517.0,249.14 518.0,248.91 519.0,248.68 520.0,248.44 521.0,248.21 522.0,247.98 523.0,247.74 524.0,247.51 525.0,247.01 526.0,246.51 527.0,246.01 528.0,245.51 529.0,245.01 530.0,244.51 531.0,244.01 532.0,243.51 533.0,243.01 534.0,242.61 535.0,242.21 536.0,241.81 537.0,241.41 538.0,241.01 539.0,240.61 540.0,240.21 541.0,239.81 542.0,239.41 543.0,239.31 543.5,239.26 544.0,239.21 545.0,239.11 546.0,239.01 547.0,238.91 548.0,238.81 549.0,238.71 550.0,238.61 551.0,238.51 551.0,238.51 552.0,238.18 553.0,237.85 554.0,237.51 554.0,237.51 555.0,237.18 555.5,237.01 556.0,237.25 557.0,237.73 557.0,237.73 558.0,238.21 559.0,238.69 560.0,239.17 561.0,239.65 562.0,240.13 563.0,240.61 563.0,240.61 564.0,239.69 564.5,239.21 565.0,238.75 566.0,237.82 567.0,236.89 567.5,236.41 568.0,236.15 569.0,235.62 570.0,235.08 571.0,234.55 572.0,234.02" fill="none" stroke="#62b888" stroke-width="1"/>
<path d="M80.0,385.50 81.0,385.42 82.0,385.34 82.8,385.28 83.0,385.10 84.0,384.39 84.4,384.11 84.6,383.95 85.0,383.40 85.0,382.83 85.5,377.09 86.0,371.36 86.6,364.48 87.0,364.22 88.0,363.56 88.8,363.03 89.0,362.90 90.0,362.24 91.0,361.58 92.0,360.92 92.1,360.85 93.0,360.40 94.0,359.90 95.0,359.40 96.0,358.90 96.5,358.65 97.0,358.69 98.0,358.76 99.0,358.84 100.0,358.91 100.9,358.98 101.0,358.85 102.0,357.53 103.0,356.21 103.7,355.35 104.0,355.18 105.0,354.69 106.0,354.21 107.0,353.72 107.5,353.48 108.0,353.44 109.0,353.37 110.0,353.29 111.0,353.22 111.9,353.15 112.0,353.17 113.0,353.33 114.0,353.50 115.0,353.67 115.2,353.70 116.0,354.50 117.0,355.50 117.4,355.90 118.0,356.45 118.0,356.50 119.0,357.42 120.0,358.34 120.7,358.98 121.0,359.00 122.0,359.07 123.0,359.13 124.0,359.20 125.0,359.00 126.0,358.80 127.0,358.60 128.0,358.40 129.0,358.20 129.5,358.10 130.0,358.00 131.0,357.80 132.0,357.60 133.0,357.40 134.0,357.20 135.0,357.00 135.0,357.00 136.0,356.78 137.0,356.56 138.0,356.34 139.0,356.11 140.0,355.90 140.0,355.20 141.0,354.70 142.0,354.20 143.0,353.70 143.6,353.40 144.0,353.20 144.8,352.80 145.0,352.80 146.0,352.80 147.0,352.80 147.2,352.80 148.0,352.80 149.0,352.80 149.6,352.80 150.0,352.95 151.0,353.32 152.0,353.70 153.0,354.08 154.0,354.45 154.4,354.60 155.0,353.90 155.6,353.20 156.0,352.73 156.8,351.80 157.0,351.57 158.0,350.40 159.0,350.60 159.2,350.64 160.0,350.80 160.4,350.88 161.0,351.00 161.6,351.12 162.0,351.20 163.0,351.40 164.0,351.60 165.0,351.35 165.2,351.30 166.0,351.10 167.0,350.85 168.0,350.60 168.8,350.40 169.0,350.38 170.0,350.28 171.0,350.18 172.0,350.08 173.0,349.98 173.6,349.92 174.0,349.88 174.8,349.80 175.0,349.73 176.0,349.35 177.0,348.98 178.0,348.60 178.4,348.45 179.0,348.23 179.6,348.00 180.0,347.92 181.0,347.72 182.0,347.52 183.0,347.32 183.2,347.28 184.0,347.12 184.4,347.04 185.0,346.92 185.6,346.80 186.0,346.70 187.0,346.45 188.0,346.20 189.0,345.95 189.2,345.90 190.0,345.70 190.4,345.60 191.0,345.53 192.0,345.40 192.8,345.30 193.0,345.28 194.0,345.15 195.0,345.02 195.2,345.00 196.0,344.83 196.4,344.75 197.0,344.62 198.0,344.42 199.0,344.21 200.0,344.16 201.0,344.18 202.0,344.21 203.0,344.23 204.0,344.25 205.0,344.28 206.0,344.30 207.0,344.10 208.0,343.90 209.0,343.70 210.0,343.50 211.0,343.30 212.0,343.10 213.0,342.90 213.5,342.80 214.0,342.70 214.2,342.65 215.0,342.50 216.0,342.00 217.0,341.50 218.0,341.00 219.0,340.50 219.5,340.25 220.0,340.00 221.0,339.50 222.0,339.00 223.0,338.50 224.0,338.00 225.0,338.00 226.0,338.00 227.0,338.00 228.0,338.00 228.5,338.00 229.0,338.00 229.2,338.00 230.0,337.25 231.0,336.25 232.0,335.25 232.2,335.00 233.0,334.75 234.0,334.42 235.0,334.08 236.0,333.75 237.0,333.42 237.5,333.25 238.0,333.08 239.0,332.75 240.0,332.50 241.0,332.25 242.0,332.00 243.0,331.75 243.5,331.62 244.0,331.50 245.0,331.25 246.0,331.07 247.0,330.90 248.0,330.73 249.0,330.55 249.5,330.46 250.0,330.38 251.0,330.20 252.0,330.33 252.5,330.40 253.0,330.47 254.0,330.60 255.0,330.73 255.5,330.80 256.0,330.73 257.0,330.60 258.0,330.47 259.0,330.33 260.0,330.49 261.0,330.09 262.0,329.69 263.0,329.29 264.0,328.89 265.0,328.49 265.4,328.33 266.0,328.09 267.0,327.69 268.0,327.29 269.0,326.89 270.0,326.59 271.0,326.29 272.0,325.99 272.6,325.81 273.0,325.69 274.0,325.39 275.0,325.09 276.0,324.79 277.0,324.49 278.0,324.19 279.0,323.99 280.0,323.79 281.0,323.59 282.0,323.39 283.0,323.19 284.0,322.99 285.0,322.79 285.2,322.75 286.0,322.59 287.0,322.39 288.0,322.19 289.0,321.99 290.0,321.79 291.0,321.59 292.0,321.39 292.4,321.31 293.0,321.19 294.0,320.99 295.0,320.79 296.0,320.59 297.0,320.49 297.8,320.41 298.0,320.39 299.0,320.29 300.0,320.19 301.0,320.09 302.0,319.99 303.0,319.89 304.0,319.79 305.0,319.69 306.0,319.79 306.8,319.87 307.0,319.89 308.0,319.99 309.0,320.09 310.0,320.19 311.0,320.29 312.0,320.39 313.0,320.49 314.0,320.59 315.0,320.29 316.0,319.98 317.0,319.68 318.0,319.38 319.0,319.07 319.9,318.79 320.0,318.10 321.0,317.80 322.0,317.50 323.0,317.20 324.0,316.90 325.0,316.60 326.0,316.30 326.9,316.03 327.0,316.00 328.0,315.70 329.0,315.40 329.2,315.34 330.0,315.42 331.0,315.52 332.0,315.62 333.0,315.72 333.8,315.80 334.0,315.68 335.0,315.08 336.0,314.48 336.1,314.42 337.0,313.88 338.0,313.28 338.4,313.04 339.0,312.86 340.0,312.56 341.0,312.26 342.0,311.96 343.0,311.66 344.0,310.92 345.0,310.18 346.0,309.44 347.0,308.70 348.0,307.96 349.0,307.22 349.9,306.55 350.0,306.48 351.0,305.74 352.0,305.00 353.0,304.26 354.0,303.52 354.5,303.15 355.0,303.03 356.0,302.80 357.0,302.57 358.0,302.33 359.0,302.10 360.0,301.87 361.0,301.63 361.4,301.54 362.0,301.27 363.0,300.81 364.0,300.35 365.0,299.89 366.0,299.44 367.0,298.98 368.0,298.52 368.3,298.39 369.0,298.07 369.4,297.86 370.0,297.55 371.0,296.99 372.0,296.43 373.0,295.87 374.0,295.31 375.0,294.75 375.2,294.64 376.0,294.33 377.0,293.95 378.0,293.56 379.0,293.18 380.0,292.79 380.0,293.95 381.0,293.47 382.0,292.98 383.0,292.48 384.0,291.99 384.8,291.59 385.0,291.44 386.0,290.69 387.0,289.94 388.0,289.19 389.0,288.44 389.6,287.99 390.0,287.95 391.0,287.85 392.0,287.75 393.0,287.65 394.0,287.55 394.4,287.51 395.0,286.99 396.0,286.12 396.8,285.43 397.0,285.26 398.0,284.39 399.0,283.52 400.0,282.66 401.0,281.79 401.6,281.27 402.0,281.07 403.0,280.57 404.0,280.07 405.0,279.57 406.0,279.07 406.4,278.87 407.0,278.87 408.0,278.87 408.8,278.87 409.0,278.87 410.0,278.87 411.0,278.87 411.2,278.87 412.0,278.59 413.0,278.24 413.6,278.03 414.0,277.89 415.0,277.54 416.0,277.19 417.0,277.06 418.0,276.92 418.4,276.87 419.0,276.79 419.6,276.71 420.0,276.85 421.0,277.20 422.0,277.55 423.0,277.90 424.0,278.25 424.4,278.39 425.0,278.09 425.6,277.79 426.0,277.59 427.0,277.09 428.0,276.59 429.0,276.09 430.0,275.59 431.0,275.09 431.6,274.79 432.0,274.64 432.8,274.35 433.0,274.27 434.0,273.90 435.0,273.53 436.0,273.16 437.0,272.79 438.0,272.42 439.0,272.05 440.0,273.11 441.0,272.59 442.0,272.08 443.0,271.56 444.0,271.04 445.0,270.53 446.0,270.01 447.0,269.49 447.8,269.08 448.0,269.06 449.0,268.96 450.0,268.86 450.4,268.82 451.0,268.76 452.0,268.66 453.0,268.56 454.0,268.46 455.0,268.36 455.6,268.30 456.0,268.65 457.0,269.51 458.0,270.38 458.2,270.55 459.0,271.25 459.5,271.68 460.0,271.25 461.0,270.38 462.0,269.51 463.0,268.65 463.4,268.30 464.0,268.15 465.0,267.90 466.0,267.65 467.0,267.40 468.0,267.15 469.0,266.90 470.0,266.65 471.0,266.40 471.2,266.35 472.0,266.15 473.0,265.90 473.8,265.70 474.0,265.77 475.0,266.10 476.0,266.43 477.0,266.77 477.7,267.00 478.0,266.86 479.0,266.38 480.0,265.90 481.0,265.42 481.6,265.13 482.0,264.94 483.0,264.46 484.0,263.98 484.2,263.88 485.0,263.62 486.0,263.30 486.8,263.05 487.0,262.98 488.0,262.66 489.0,262.34 489.4,262.22 490.0,262.02 490.7,261.80 491.0,261.50 492.0,260.50 493.0,259.50 494.0,258.50 495.0,257.50 495.9,256.60 496.0,256.61 497.0,256.71 498.0,256.81 499.0,256.91 500.0,257.01 500.1,255.30 501.0,254.62 502.0,253.90 503.0,253.18 504.0,252.45 504.5,252.09 505.0,251.73 506.0,251.01 507.0,250.74 508.0,250.48 509.0,250.21 510.0,249.94 511.0,249.68 512.0,249.41 513.0,249.14 514.0,248.88 515.0,248.61 516.0,248.38 517.0,248.14 518.0,247.91 519.0,247.68 520.0,247.44 521.0,247.21 522.0,246.98 523.0,246.74 524.0,246.51 525.0,246.01 526.0,245.51 527.0,245.01 528.0,244.51 529.0,244.01 530.0,243.51 531.0,243.01 532.0,242.51 533.0,242.01 534.0,241.61 535.0,241.21 536.0,240.81 537.0,240.41 538.0,240.01 539.0,239.61 540.0,239.21 541.0,238.81 542.0,238.41 543.0,238.31 543.5,238.26 544.0,238.21 545.0,238.11 546.0,238.01 547.0,237.91 548.0,237.81 549.0,237.71 550.0,237.61 551.0,237.51 551.0,237.51 552.0,237.18 553.0,236.85 554.0,236.51 554.0,236.51 555.0,236.18 555.5,236.01 556.0,236.25 557.0,236.73 557.0,236.73 558.0,237.21 559.0,237.69 560.0,238.17 561.0,238.65 562.0,239.13 563.0,239.61 563.0,239.61 564.0,238.69 564.5,238.21 565.0,237.75 566.0,236.82 567.0,235.89 567.5,235.41 568.0,235.15 569.0,234.62 570.0,234.08 571.0,233.55 572.0,233.02" fill="none" stroke="#eeee44" stroke-width="0.7"/>
<path d="M80.0,385.50 81.0,385.42 82.0,385.34 82.8,385.28 83.0,385.10 84.0,384.39 84.4,384.11 84.6,383.95 85.0,380.59 85.0,380.09 85.5,375.00 86.0,369.92 86.6,363.82 87.0,363.55 88.0,362.87 88.8,362.32 89.0,362.19 90.0,361.51 91.0,360.83 92.0,360.15 92.1,360.08 93.0,359.45 94.0,358.75 95.0,358.05 96.0,357.35 96.5,357.00 97.0,357.06 98.0,357.19 99.0,357.31 100.0,357.44 100.9,357.55 101.0,357.43 102.0,356.23 103.0,355.03 103.7,354.25 104.0,354.10 105.0,353.67 106.0,353.24 107.0,352.81 107.5,352.60 108.0,352.45 109.0,352.15 110.0,351.85 111.0,351.55 111.9,351.28 112.0,351.31 113.0,351.65 114.0,351.98 115.0,352.31 115.2,352.38 116.0,353.08 117.0,353.96 117.4,354.32 118.0,354.80 118.0,354.84 119.0,355.64 120.0,356.44 120.7,357.00 121.0,357.05 122.0,357.22 123.0,357.38 124.0,357.55 125.0,357.35 126.0,357.15 127.0,356.95 128.0,356.75 129.0,356.55 129.5,356.45 130.0,356.25 131.0,355.85 132.0,355.45 133.0,355.05 134.0,354.65 135.0,354.25 135.0,354.25 136.0,353.88 137.0,353.50 138.0,353.12 139.0,352.74 140.0,352.38 140.0,352.20 141.0,351.70 142.0,351.20 143.0,350.70 143.6,350.40 144.0,350.20 144.8,349.80 145.0,349.75 146.0,349.50 147.0,349.25 147.2,349.20 148.0,349.00 149.0,348.75 149.6,348.60 150.0,348.55 151.0,348.43 152.0,348.30 153.0,348.18 154.0,348.05 154.4,348.00 155.0,347.70 155.6,347.40 156.0,347.20 156.8,346.80 157.0,346.42 158.0,344.52 159.0,342.62 159.2,342.24 160.0,341.96 160.4,341.82 161.0,341.61 161.6,341.40 162.0,341.49 163.0,341.73 164.0,341.96 165.0,342.19 165.2,342.24 166.0,342.16 167.0,342.06 168.0,341.96 168.8,341.88 169.0,341.86 170.0,341.76 171.0,341.56 172.0,341.36 173.0,341.16 173.6,341.04 174.0,340.96 174.8,340.80 175.0,340.73 176.0,340.35 177.0,339.98 178.0,339.60 178.4,339.45 179.0,339.23 179.6,339.00 180.0,338.90 181.0,338.65 182.0,338.40 183.0,338.15 183.2,338.10 184.0,337.90 184.4,337.80 185.0,337.50 185.6,337.20 186.0,337.00 187.0,336.50 188.0,336.00 189.0,335.50 189.2,335.40 190.0,335.20 190.4,335.10 191.0,334.95 192.0,334.70 192.8,334.50 193.0,334.45 194.0,334.20 195.0,334.00 195.2,333.96 196.0,333.80 196.4,333.72 197.0,333.60 198.0,333.40 199.0,333.20 200.0,333.20 201.0,333.38 202.0,333.55 203.0,333.73 204.0,333.90 205.0,334.07 206.0,334.25 207.0,334.15 208.0,334.05 209.0,333.95 210.0,333.85 211.0,333.75 212.0,333.65 213.0,333.55 213.5,333.50 214.0,333.19 214.2,333.03 215.0,332.56 216.0,331.94 217.0,331.31 218.0,330.69 219.0,330.06 219.5,329.75 220.0,329.33 221.0,328.50 222.0,327.67 223.0,326.83 224.0,326.00 225.0,325.55 226.0,325.10 227.0,324.65 228.0,324.20 228.5,323.98 229.0,323.75 229.2,323.64 230.0,323.30 231.0,321.83 232.0,320.37 232.2,320.00 233.0,319.80 234.0,319.53 235.0,319.27 236.0,319.00 237.0,318.73 237.5,318.60 238.0,318.47 239.0,318.20 240.0,317.88 241.0,317.55 242.0,317.23 243.0,316.90 243.5,316.74 244.0,316.57 245.0,316.25 246.0,316.02 247.0,315.78 248.0,315.55 249.0,315.32 249.5,315.20 250.0,315.20 251.0,315.20 252.0,315.20 252.5,315.20 253.0,315.20 254.0,315.20 255.0,314.84 255.5,314.66 256.0,314.48 257.0,314.12 258.0,313.75 259.0,313.39 260.0,313.25 261.0,312.61 262.0,311.97 263.0,311.33 264.0,310.69 265.0,310.05 265.4,309.79 266.0,309.57 267.0,309.19 268.0,308.82 269.0,308.45 270.0,308.07 271.0,307.70 272.0,307.32 272.6,307.10 273.0,306.90 274.0,306.40 275.0,305.90 276.0,305.40 277.0,304.90 278.0,304.40 279.0,304.16 280.0,303.92 281.0,303.68 282.0,303.44 283.0,303.20 284.0,302.96 285.0,302.72 285.2,302.67 286.0,302.48 287.0,302.24 288.0,301.92 289.0,301.60 290.0,301.28 291.0,300.96 292.0,300.64 292.4,300.51 293.0,300.32 294.0,300.00 295.0,299.68 296.0,299.36 297.0,299.22 297.8,299.11 298.0,299.08 299.0,298.94 300.0,298.80 301.0,298.66 302.0,298.52 303.0,298.38 304.0,298.24 305.0,298.10 306.0,297.90 306.8,297.74 307.0,297.70 308.0,297.50 309.0,297.30 310.0,297.10 311.0,296.90 312.0,296.70 313.0,296.50 314.0,296.30 315.0,296.09 316.0,295.88 317.0,295.66 318.0,295.45 319.0,295.24 319.9,295.04 320.0,293.95 321.0,293.57 322.0,293.20 323.0,292.82 324.0,292.45 325.0,292.07 326.0,291.70 326.9,291.36 327.0,291.32 328.0,290.95 329.0,290.57 329.2,290.50 330.0,290.26 331.0,289.96 332.0,289.66 333.0,289.36 333.8,289.12 334.0,289.06 335.0,288.76 336.0,288.46 336.1,288.43 337.0,288.16 338.0,287.86 338.4,287.74 339.0,287.50 340.0,287.10 341.0,286.70 342.0,286.30 343.0,285.90 344.0,285.10 345.0,284.30 346.0,283.50 347.0,282.70 348.0,281.90 349.0,281.10 349.9,280.38 350.0,280.30 351.0,279.50 352.0,278.70 353.0,277.90 354.0,277.10 354.5,276.70 355.0,276.62 356.0,276.45 357.0,276.28 358.0,276.12 359.0,275.95 360.0,275.78 361.0,275.62 361.4,275.55 362.0,275.16 363.0,274.50 364.0,273.84 365.0,273.18 366.0,272.53 367.0,271.87 368.0,271.21 368.3,271.02 369.0,270.56 369.4,270.26 370.0,269.78 371.0,268.90 372.0,268.02 373.0,267.14 374.0,266.26 375.0,265.38 375.2,265.20 376.0,265.08 377.0,264.93 378.0,264.77 379.0,264.62 380.0,264.47 380.0,264.74 381.0,264.34 382.0,263.93 383.0,263.53 384.0,263.12 384.8,262.79 385.0,262.59 386.0,261.59 387.0,260.59 388.0,259.59 389.0,258.59 389.6,257.99 390.0,257.86 391.0,257.52 392.0,257.19 393.0,256.86 394.0,256.52 394.4,256.39 395.0,256.19 396.0,255.86 396.8,255.59 397.0,255.41 398.0,254.51 399.0,253.61 400.0,252.71 401.0,251.81 401.6,251.27 402.0,250.91 403.0,250.01 404.0,249.11 405.0,248.18 406.0,247.25 406.4,246.87 407.0,246.31 408.0,245.38 408.8,244.64 409.0,244.45 410.0,243.52 411.0,242.59 411.2,242.40 412.0,242.32 413.0,242.22 413.6,242.16 414.0,242.12 415.0,242.02 416.0,241.92 417.0,242.18 418.0,242.45 418.4,242.55 419.0,242.71 419.6,242.87 420.0,242.99 421.0,243.29 422.0,243.59 423.0,243.89 424.0,244.19 424.4,244.31 425.0,243.95 425.6,243.59 426.0,243.35 427.0,242.75 428.0,242.16 429.0,241.56 430.0,240.96 431.0,240.36 431.6,240.00 432.0,239.86 432.8,239.59 433.0,239.52 434.0,239.17 435.0,238.83 436.0,238.48 437.0,238.14 438.0,237.79 439.0,237.45 440.0,237.12 441.0,236.54 442.0,235.97 443.0,235.39 444.0,234.81 445.0,234.24 446.0,233.66 447.0,233.08 447.8,232.62 448.0,232.50 449.0,231.93 450.0,231.35 450.4,231.12 451.0,230.84 452.0,230.37 453.0,229.91 454.0,229.44 455.0,228.97 455.6,228.69 456.0,228.51 457.0,228.04 458.0,227.57 458.2,227.48 459.0,226.76 459.5,226.31 460.0,225.86 461.0,224.96 462.0,224.06 463.0,223.16 463.4,222.80 464.0,222.62 465.0,222.32 466.0,222.02 467.0,221.72 468.0,221.42 469.0,221.12 470.0,220.82 471.0,220.52 471.2,220.46 472.0,220.22 473.0,219.92 473.8,219.68 474.0,219.61 475.0,219.28 476.0,218.95 477.0,218.61 477.7,218.38 478.0,218.28 479.0,217.95 480.0,217.61 481.0,217.28 481.6,217.08 482.0,216.87 483.0,216.33 484.0,215.80 484.2,215.69 485.0,215.27 486.0,214.73 486.8,214.31 487.0,214.20 488.0,213.67 489.0,213.13 489.4,212.92 490.0,212.44 490.7,211.88 491.0,211.64 492.0,210.84 493.0,210.04 494.0,209.24 495.0,208.44 495.9,207.72 496.0,207.79 497.0,208.47 498.0,209.15 499.0,209.83 500.0,210.51 500.1,210.32 501.0,210.17 502.0,210.01 503.0,209.85 504.0,209.69 504.5,209.61 505.0,209.27 506.0,208.58 507.0,207.90 508.0,207.21 509.0,206.52 510.0,205.84 511.0,205.15 512.0,204.47 513.0,203.78 514.0,203.10 515.0,202.41 516.0,202.08 517.0,201.74 518.0,201.41 519.0,201.08 520.0,200.74 521.0,200.41 522.0,200.08 523.0,199.74 524.0,199.41 525.0,198.64 526.0,197.88 527.0,197.11 528.0,196.34 529.0,195.58 530.0,194.81 531.0,194.04 532.0,193.28 533.0,192.51 534.0,192.26 535.0,192.01 536.0,191.76 537.0,191.51 538.0,191.26 539.0,191.01 540.0,190.21 541.0,189.41 542.0,188.61 543.0,187.81 543.5,187.41 544.0,187.74 545.0,188.41 546.0,189.08 547.0,189.74 548.0,190.41 549.0,189.98 550.0,189.54 551.0,189.11 551.0,189.11 552.0,188.68 553.0,188.25 554.0,187.81 554.0,187.81 555.0,187.38 555.5,187.16 556.0,186.95 557.0,186.51 557.0,186.51 558.0,186.11 559.0,185.71 560.0,185.31 561.0,184.91 562.0,184.51 563.0,184.11 563.0,184.11 564.0,183.71 564.5,183.51 565.0,183.31 566.0,182.91 567.0,182.51 567.5,182.31 568.0,182.11 569.0,181.71 570.0,181.31 571.0,180.91 572.0,180.51" fill="none" stroke="#e06070" stroke-width="1"/>
<path d="M80.0,385.39 81.0,385.27 82.0,385.15 82.8,385.06 83.0,384.81 84.0,383.80 84.4,383.40 84.6,381.42 85.0,378.45 85.0,378.00 85.5,373.50 86.0,368.75 86.6,363.05 87.0,362.79 88.0,362.14 88.8,361.62 89.0,361.44 90.0,360.54 91.0,359.64 92.0,358.74 92.1,358.65 93.0,358.04 94.0,357.37 95.0,356.69 96.0,356.02 96.5,355.68 97.0,355.61 98.0,355.45 99.0,355.31 100.0,355.15 100.9,355.02 101.0,354.89 102.0,353.61 103.0,352.33 103.7,351.50 104.0,351.30 105.0,350.73 106.0,350.16 107.0,349.59 107.5,349.30 108.0,349.12 109.0,348.76 110.0,348.40 111.0,348.04 111.9,347.72 112.0,347.68 113.0,347.32 114.0,347.22 115.0,347.12 115.2,347.10 116.0,347.02 117.0,346.92 117.4,346.88 118.0,346.81 118.0,346.80 119.0,346.67 120.0,346.53 120.7,346.44 121.0,346.40 122.0,346.27 123.0,346.13 124.0,346.00 125.0,345.76 126.0,345.52 127.0,345.28 128.0,345.04 129.0,344.80 129.5,344.68 130.0,344.52 131.0,344.20 132.0,343.88 133.0,343.56 134.0,343.24 135.0,342.92 135.0,342.92 136.0,342.55 137.0,342.17 138.0,341.79 139.0,341.41 140.0,341.05 140.0,341.40 141.0,340.73 142.0,340.07 143.0,339.40 143.6,339.00 144.0,338.91 144.8,338.72 145.0,338.67 146.0,338.44 147.0,338.21 147.2,338.16 148.0,337.80 149.0,337.35 149.6,337.08 150.0,336.90 151.0,336.45 152.0,336.00 153.0,335.73 154.0,335.47 154.4,335.36 155.0,335.20 155.6,335.04 156.0,334.40 156.8,333.12 157.0,332.80 158.0,331.20 159.0,330.20 159.2,330.00 160.0,329.20 160.4,328.80 161.0,328.56 161.6,328.32 162.0,328.16 163.0,327.76 164.0,327.36 165.0,326.79 165.2,326.67 166.0,326.21 167.0,325.64 168.0,325.06 168.8,324.60 169.0,324.53 170.0,324.15 171.0,323.78 172.0,323.40 173.0,323.03 173.6,322.80 174.0,322.68 174.8,322.44 175.0,322.38 176.0,322.08 177.0,321.78 178.0,321.48 178.4,321.36 179.0,321.17 179.6,320.97 180.0,320.84 181.0,320.51 182.0,320.19 183.0,319.87 183.2,319.80 184.0,319.30 184.4,319.05 185.0,318.68 185.6,318.30 186.0,318.05 187.0,317.43 188.0,316.80 189.0,316.43 189.2,316.35 190.0,316.05 190.4,315.90 191.0,315.68 192.0,315.30 192.8,315.00 193.0,314.95 194.0,314.72 195.0,314.49 195.2,314.44 196.0,314.25 196.4,314.16 197.0,313.96 198.0,313.63 199.0,313.29 200.0,313.25 201.0,312.88 202.0,312.50 203.0,312.12 204.0,311.75 205.0,311.38 206.0,311.00 207.0,310.40 208.0,309.80 209.0,309.20 210.0,308.97 211.0,308.74 212.0,308.51 213.0,308.29 213.5,308.17 214.0,308.06 214.2,308.00 215.0,307.57 216.0,307.00 217.0,306.43 218.0,305.86 219.0,305.29 219.5,305.00 220.0,304.63 221.0,303.90 222.0,303.17 223.0,302.43 224.0,301.70 225.0,301.10 226.0,300.50 227.0,299.90 228.0,299.30 228.5,299.00 229.0,298.36 229.2,298.04 230.0,297.08 231.0,295.80 232.0,294.52 232.2,294.20 233.0,293.86 234.0,293.40 235.0,292.94 236.0,292.49 237.0,292.03 237.5,291.80 238.0,291.55 239.0,291.05 240.0,290.55 241.0,290.05 242.0,289.55 243.0,289.05 243.5,288.80 244.0,288.60 245.0,288.20 246.0,287.80 247.0,287.40 248.0,287.00 249.0,286.83 249.5,286.75 250.0,286.67 251.0,286.50 252.0,286.33 252.5,286.25 253.0,286.03 254.0,285.60 255.0,285.17 255.5,284.95 256.0,284.73 257.0,284.30 258.0,283.92 259.0,283.54 260.0,283.25 261.0,282.57 262.0,281.88 263.0,281.20 264.0,280.52 265.0,279.83 265.4,279.56 266.0,279.38 267.0,279.08 268.0,278.78 269.0,278.48 270.0,278.18 271.0,277.88 272.0,277.58 272.6,277.40 273.0,277.20 274.0,276.70 275.0,276.20 276.0,275.70 277.0,275.20 278.0,274.70 279.0,274.52 280.0,274.35 281.0,274.18 282.0,274.00 283.0,273.82 284.0,273.65 285.0,273.48 285.2,273.44 286.0,273.08 287.0,272.63 288.0,272.18 289.0,271.73 290.0,271.28 291.0,270.83 292.0,270.38 292.4,270.20 293.0,269.96 294.0,269.56 295.0,269.16 296.0,268.76 297.0,268.36 297.8,268.04 298.0,268.01 299.0,267.85 300.0,267.69 301.0,267.53 302.0,267.37 303.0,267.21 304.0,267.05 305.0,266.89 306.0,266.73 306.8,266.60 307.0,266.51 308.0,266.06 309.0,265.61 310.0,265.16 311.0,264.71 312.0,264.26 313.0,263.81 314.0,263.36 315.0,262.94 316.0,262.51 317.0,262.09 318.0,261.66 319.0,261.24 319.9,260.84 320.0,259.45 321.0,259.12 322.0,258.78 323.0,258.45 324.0,258.12 325.0,257.78 326.0,257.45 326.9,257.15 327.0,257.09 328.0,256.52 329.0,255.94 329.2,255.83 330.0,255.37 331.0,254.79 332.0,254.22 333.0,253.64 333.8,253.18 334.0,253.07 335.0,252.49 336.0,251.92 336.1,251.86 337.0,251.35 338.0,250.78 338.4,250.56 339.0,250.22 340.0,249.65 341.0,249.08 342.0,248.52 343.0,247.95 344.0,247.18 345.0,246.42 346.0,245.65 347.0,244.88 348.0,244.12 349.0,243.35 349.9,242.66 350.0,242.56 351.0,241.56 352.0,240.56 353.0,239.56 354.0,238.56 354.5,238.06 355.0,237.83 356.0,237.36 357.0,236.89 358.0,236.43 359.0,235.96 360.0,235.49 361.0,235.03 361.4,234.84 362.0,234.44 363.0,233.77 364.0,233.11 365.0,232.44 366.0,231.77 367.0,231.11 368.0,230.44 368.3,230.24 369.0,229.63 369.4,229.24 370.0,228.77 371.0,227.90 372.0,227.03 373.0,226.17 374.0,225.30 375.0,224.43 375.2,224.26 376.0,224.16 377.0,224.04 378.0,223.92 379.0,223.80 380.0,223.68 380.0,223.80 381.0,223.43 382.0,223.06 383.0,222.68 384.0,222.30 384.8,222.00 385.0,221.77 386.0,220.62 387.0,219.47 388.0,218.32 389.0,217.17 389.6,216.48 390.0,216.40 391.0,216.20 392.0,216.00 393.0,215.80 394.0,215.60 394.4,215.52 395.0,214.96 396.0,214.03 396.8,213.28 397.0,213.09 398.0,212.16 399.0,211.23 400.0,210.29 401.0,209.36 401.6,208.80 402.0,208.51 403.0,207.77 404.0,207.04 405.0,206.31 406.0,205.57 406.4,205.28 407.0,204.84 408.0,204.11 408.8,203.52 409.0,203.39 410.0,202.74 411.0,202.09 411.2,201.96 412.0,201.44 413.0,200.79 413.6,200.40 414.0,200.30 415.0,200.05 416.0,199.80 417.0,199.55 418.0,199.30 418.4,199.20 419.0,198.90 419.6,198.60 420.0,198.40 421.0,197.90 422.0,197.40 423.0,196.90 424.0,196.40 424.4,196.20 425.0,195.90 425.6,195.60 426.0,195.33 427.0,194.67 428.0,194.00 429.0,193.33 430.0,192.67 431.0,192.00 431.6,191.60 432.0,191.33 432.8,190.80 433.0,190.69 434.0,190.15 435.0,189.61 436.0,189.08 437.0,188.54 438.0,188.00 439.0,187.46 440.0,188.40 441.0,187.64 442.0,186.89 443.0,186.13 444.0,185.37 445.0,184.62 446.0,183.86 447.0,183.11 447.8,182.50 448.0,182.40 449.0,181.90 450.0,181.40 450.4,181.20 451.0,180.90 452.0,180.40 453.0,179.90 454.0,179.40 455.0,178.90 455.6,178.60 456.0,178.31 457.0,177.57 458.0,176.84 458.2,176.69 459.0,176.11 459.5,175.74 460.0,175.37 461.0,174.64 462.0,173.91 463.0,173.17 463.4,172.88 464.0,172.68 465.0,172.35 466.0,172.01 467.0,171.68 468.0,171.35 469.0,171.01 470.0,170.68 471.0,170.35 471.2,170.28 472.0,170.07 473.0,169.80 473.8,169.59 474.0,169.53 475.0,169.27 476.0,169.00 477.0,168.73 477.7,168.55 478.0,168.47 479.0,168.20 480.0,167.80 481.0,167.40 481.6,167.16 482.0,167.00 483.0,166.60 484.0,166.20 484.2,166.12 485.0,165.80 486.0,165.40 486.8,165.08 487.0,164.98 488.0,164.48 489.0,163.98 489.4,163.78 490.0,163.48 490.7,163.13 491.0,162.98 492.0,162.48 493.0,161.28 494.0,160.08 495.0,158.88 495.9,157.80 496.0,157.73 497.0,157.05 498.0,156.37 499.0,155.68 500.0,155.00 500.1,155.20 501.0,154.46 502.0,153.66 503.0,152.87 504.0,152.08 504.5,151.69 505.0,151.29 506.0,150.50 507.0,149.73 508.0,148.97 509.0,148.20 510.0,147.43 511.0,146.67 512.0,145.90 513.0,145.13 514.0,144.37 515.0,143.60 516.0,143.27 517.0,142.93 518.0,142.60 519.0,142.27 520.0,141.93 521.0,141.60 522.0,141.27 523.0,140.93 524.0,140.60 525.0,139.87 526.0,139.13 527.0,138.40 528.0,137.67 529.0,136.93 530.0,136.20 531.0,135.47 532.0,134.73 533.0,134.00 534.0,133.75 535.0,133.50 536.0,133.25 537.0,133.00 538.0,132.75 539.0,132.50 540.0,131.50 541.0,130.50 542.0,129.50 543.0,128.50 543.5,128.00 544.0,127.86 545.0,127.57 546.0,127.29 547.0,127.00 548.0,126.72 549.0,126.43 550.0,126.14 551.0,125.86 551.0,125.86 552.0,125.57 553.0,125.29 554.0,125.00 554.0,125.00 555.0,124.50 555.5,124.25 556.0,124.00 557.0,123.50 557.0,123.50 558.0,123.00 559.0,122.50 560.0,122.00 561.0,121.50 562.0,121.00 563.0,120.50 563.0,120.50 564.0,119.84 564.5,119.50 565.0,119.17 566.0,118.51 567.0,117.84 567.5,117.50 568.0,117.17 569.0,116.51 570.0,115.84 571.0,115.17 572.0,114.51" fill="none" stroke="#9575dc" stroke-width="1"/>
<text transform="translate(79,392.2) scale(1.06,1)" text-anchor="end" class="t">0</text>
<text transform="translate(79,348.5) scale(1.06,1)" text-anchor="end" class="t">100</text>
<text transform="translate(79,304.8) scale(1.06,1)" text-anchor="end" class="t">200</text>
<text transform="translate(79,261.1) scale(1.06,1)" text-anchor="end" class="t">300</text>
<text transform="translate(79,217.4) scale(1.06,1)" text-anchor="end" class="t">400</text>
<text transform="translate(79,173.7) scale(1.06,1)" text-anchor="end" class="t">500</text>
<text transform="translate(79,130.0) scale(1.06,1)" text-anchor="end" class="t">600</text>
<text transform="translate(71.00,396.3) rotate(90) scale(1.06,1)" class="t">30-04-2018</text>
<text transform="translate(94.95,396.3) rotate(90) scale(1.06,1)" class="t">16-07-2018</text>
<text transform="translate(118.90,396.3) rotate(90) scale(1.06,1)" class="t">01-10-2018</text>
<text transform="translate(142.85,396.3) rotate(90) scale(1.06,1)" class="t">17-12-2018</text>
<text transform="translate(166.80,396.3) rotate(90) scale(1.06,1)" class="t">04-03-2019</text>
<text transform="translate(190.75,396.3) rotate(90) scale(1.06,1)" class="t">20-05-2019</text>
<text transform="translate(214.70,396.3) rotate(90) scale(1.06,1)" class="t">05-08-2019</text>
<text transform="translate(238.65,396.3) rotate(90) scale(1.06,1)" class="t">21-10-2019</text>
<text transform="translate(262.60,396.3) rotate(90) scale(1.06,1)" class="t">06-01-2020</text>
<text transform="translate(286.55,396.3) rotate(90) scale(1.06,1)" class="t">23-03-2020</text>
<text transform="translate(310.50,396.3) rotate(90) scale(1.06,1)" class="t">08-06-2020</text>
<text transform="translate(334.45,396.3) rotate(90) scale(1.06,1)" class="t">24-08-2020</text>
<text transform="translate(358.40,396.3) rotate(90) scale(1.06,1)" class="t">09-11-2020</text>
<text transform="translate(382.35,396.3) rotate(90) scale(1.06,1)" class="t">25-01-2021</text>
<text transform="translate(406.30,396.3) rotate(90) scale(1.06,1)" class="t">12-04-2021</text>
<text transform="translate(430.25,396.3) rotate(90) scale(1.06,1)" class="t">28-06-2021</text>
<text transform="translate(454.20,396.3) rotate(90) scale(1.06,1)" class="t">13-09-2021</text>
<text transform="translate(478.15,396.3) rotate(90) scale(1.06,1)" class="t">29-11-2021</text>
<text transform="translate(502.10,396.3) rotate(90) scale(1.06,1)" class="t">14-02-2022</text>
<text transform="translate(526.05,396.3) rotate(90) scale(1.06,1)" class="t">02-05-2022</text>
<text transform="translate(550.00,396.3) rotate(90) scale(1.06,1)" class="t">18-07-2022</text>
<text transform="translate(350.3,43.1) scale(1.012,1)" text-anchor="middle" class="title">Matrix Spec Change Proposals</text>
<rect x="587" y="116.5" width="30" height="6" fill="rgba(134,99,209,0.62)"/>
<path d="M587,116.5h30" stroke="#9575dc" stroke-width="1" stroke-opacity="0.6"/>
<text transform="translate(622,125.4) scale(1.06,1)" class="t">Merged</text>
<rect x="587" y="142.7" width="30" height="6" fill="rgba(210,80,86,0.62)"/>
<path d="M587,142.7h30" stroke="#e06070" stroke-width="1" stroke-opacity="0.6"/>
<text transform="translate(622,151.6) scale(1.06,1)" class="t">Closed</text>
<rect x="587" y="168.9" width="30" height="6" fill="rgba(255,255,40,0.62)"/>
<path d="M587,168.9h30" stroke="#eeee44" stroke-width="1" stroke-opacity="0.6"/>
<text transform="translate(622,177.8) scale(1.06,1)" class="t">FCP</text>
<rect x="587" y="195.1" width="30" height="6" fill="rgba(74,180,98,0.62)"/>
<path d="M587,195.1h30" stroke="#62b888" stroke-width="1" stroke-opacity="0.6"/>
<text transform="translate(622,204.0) scale(1.06,1)" class="t">New</text>
</svg>
</body></html>
